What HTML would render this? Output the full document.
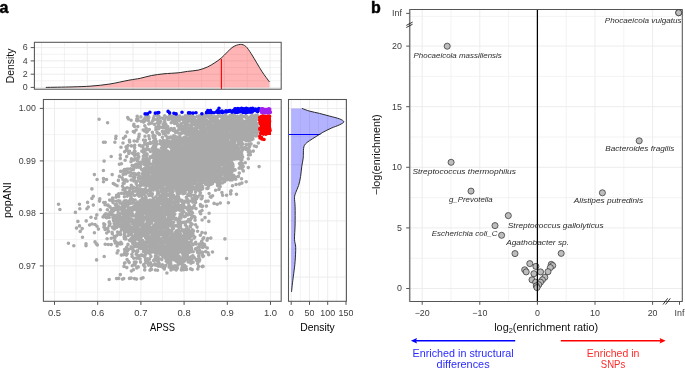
<!DOCTYPE html>
<html><head><meta charset="utf-8"><title>figure</title>
<style>
html,body{margin:0;padding:0;background:#fff;width:685px;height:370px;overflow:hidden}
svg{display:block;will-change:transform}
text{font-family:"Liberation Sans",sans-serif}
</style></head><body>
<svg width="685" height="370" viewBox="0 0 685 370">
<rect width="685" height="370" fill="#fff"/>
<line x1="41.60" y1="42.30" x2="41.60" y2="89.20" stroke="#ebebeb" stroke-width="0.9" />
<line x1="64.45" y1="42.30" x2="64.45" y2="89.20" stroke="#ebebeb" stroke-width="0.6" />
<line x1="87.30" y1="42.30" x2="87.30" y2="89.20" stroke="#ebebeb" stroke-width="0.9" />
<line x1="110.15" y1="42.30" x2="110.15" y2="89.20" stroke="#ebebeb" stroke-width="0.6" />
<line x1="133.00" y1="42.30" x2="133.00" y2="89.20" stroke="#ebebeb" stroke-width="0.9" />
<line x1="155.85" y1="42.30" x2="155.85" y2="89.20" stroke="#ebebeb" stroke-width="0.6" />
<line x1="178.70" y1="42.30" x2="178.70" y2="89.20" stroke="#ebebeb" stroke-width="0.9" />
<line x1="201.55" y1="42.30" x2="201.55" y2="89.20" stroke="#ebebeb" stroke-width="0.6" />
<line x1="224.40" y1="42.30" x2="224.40" y2="89.20" stroke="#ebebeb" stroke-width="0.9" />
<line x1="247.25" y1="42.30" x2="247.25" y2="89.20" stroke="#ebebeb" stroke-width="0.6" />
<line x1="270.10" y1="42.30" x2="270.10" y2="89.20" stroke="#ebebeb" stroke-width="0.9" />
<line x1="34.40" y1="87.40" x2="281.20" y2="87.40" stroke="#ebebeb" stroke-width="0.9" />
<line x1="34.40" y1="80.77" x2="281.20" y2="80.77" stroke="#ebebeb" stroke-width="0.6" />
<line x1="34.40" y1="74.14" x2="281.20" y2="74.14" stroke="#ebebeb" stroke-width="0.9" />
<line x1="34.40" y1="67.51" x2="281.20" y2="67.51" stroke="#ebebeb" stroke-width="0.6" />
<line x1="34.40" y1="60.88" x2="281.20" y2="60.88" stroke="#ebebeb" stroke-width="0.9" />
<line x1="34.40" y1="54.25" x2="281.20" y2="54.25" stroke="#ebebeb" stroke-width="0.6" />
<line x1="34.40" y1="47.62" x2="281.20" y2="47.62" stroke="#ebebeb" stroke-width="0.9" />
<path d="M45.80 87.40C50.17 87.32 64.48 87.12 72.00 86.90C79.52 86.68 84.58 86.58 90.90 86.10C97.22 85.62 103.57 84.98 109.90 84.00C116.23 83.02 123.83 81.15 128.90 80.20C133.97 79.25 136.52 79.08 140.30 78.30C144.08 77.52 147.65 76.25 151.60 75.50C155.55 74.75 159.57 74.25 164.00 73.80C168.43 73.35 174.30 73.20 178.20 72.80C182.10 72.40 184.05 71.85 187.40 71.40C190.75 70.95 194.97 70.83 198.30 70.10C201.63 69.37 204.67 68.22 207.40 67.00C210.13 65.78 212.42 64.27 214.70 62.80C216.98 61.33 218.97 60.02 221.10 58.20C223.23 56.38 225.52 53.78 227.50 51.90C229.48 50.02 230.87 48.15 233.00 46.90C235.13 45.65 238.17 44.48 240.30 44.40C242.43 44.32 243.98 44.85 245.80 46.40C247.62 47.95 249.38 50.97 251.20 53.70C253.02 56.43 254.87 59.77 256.70 62.80C258.53 65.83 260.07 68.70 262.20 71.90C264.33 75.10 268.28 80.32 269.50 82.00L269.5 87.4L45.8 87.4Z" fill="#ff0000" fill-opacity="0.29" stroke="none"/>
<line x1="221.40" y1="59.00" x2="221.40" y2="89.20" stroke="#ff0000" stroke-width="1.1" />
<path d="M45.80 87.40C50.17 87.32 64.48 87.12 72.00 86.90C79.52 86.68 84.58 86.58 90.90 86.10C97.22 85.62 103.57 84.98 109.90 84.00C116.23 83.02 123.83 81.15 128.90 80.20C133.97 79.25 136.52 79.08 140.30 78.30C144.08 77.52 147.65 76.25 151.60 75.50C155.55 74.75 159.57 74.25 164.00 73.80C168.43 73.35 174.30 73.20 178.20 72.80C182.10 72.40 184.05 71.85 187.40 71.40C190.75 70.95 194.97 70.83 198.30 70.10C201.63 69.37 204.67 68.22 207.40 67.00C210.13 65.78 212.42 64.27 214.70 62.80C216.98 61.33 218.97 60.02 221.10 58.20C223.23 56.38 225.52 53.78 227.50 51.90C229.48 50.02 230.87 48.15 233.00 46.90C235.13 45.65 238.17 44.48 240.30 44.40C242.43 44.32 243.98 44.85 245.80 46.40C247.62 47.95 249.38 50.97 251.20 53.70C253.02 56.43 254.87 59.77 256.70 62.80C258.53 65.83 260.07 68.70 262.20 71.90C264.33 75.10 268.28 80.32 269.50 82.00" fill="none" stroke="#222" stroke-width="0.95"/>
<rect x="34.4" y="42.3" width="246.80" height="46.90" fill="none" stroke="#555555" stroke-width="1.05"/>
<line x1="30.70" y1="47.60" x2="34.40" y2="47.60" stroke="#555555" stroke-width="1.0" />
<text x="27.60" y="50.40" font-size="8.9" text-anchor="end" fill="#3d3d3d" >6</text>
<line x1="30.70" y1="60.90" x2="34.40" y2="60.90" stroke="#555555" stroke-width="1.0" />
<text x="27.60" y="63.70" font-size="8.9" text-anchor="end" fill="#3d3d3d" >4</text>
<line x1="30.70" y1="74.20" x2="34.40" y2="74.20" stroke="#555555" stroke-width="1.0" />
<text x="27.60" y="77.00" font-size="8.9" text-anchor="end" fill="#3d3d3d" >2</text>
<line x1="30.70" y1="87.40" x2="34.40" y2="87.40" stroke="#555555" stroke-width="1.0" />
<text x="27.60" y="90.20" font-size="8.9" text-anchor="end" fill="#3d3d3d" >0</text>
<text transform="translate(13.8,65.9) rotate(-90)" font-size="10.4" text-anchor="middle" fill="#111" textLength="34.5" lengthAdjust="spacingAndGlyphs">Density</text>
<line x1="54.50" y1="99.50" x2="54.50" y2="301.30" stroke="#ebebeb" stroke-width="0.9" />
<line x1="76.10" y1="99.50" x2="76.10" y2="301.30" stroke="#ebebeb" stroke-width="0.6" />
<line x1="97.70" y1="99.50" x2="97.70" y2="301.30" stroke="#ebebeb" stroke-width="0.9" />
<line x1="119.30" y1="99.50" x2="119.30" y2="301.30" stroke="#ebebeb" stroke-width="0.6" />
<line x1="140.90" y1="99.50" x2="140.90" y2="301.30" stroke="#ebebeb" stroke-width="0.9" />
<line x1="162.50" y1="99.50" x2="162.50" y2="301.30" stroke="#ebebeb" stroke-width="0.6" />
<line x1="184.10" y1="99.50" x2="184.10" y2="301.30" stroke="#ebebeb" stroke-width="0.9" />
<line x1="205.70" y1="99.50" x2="205.70" y2="301.30" stroke="#ebebeb" stroke-width="0.6" />
<line x1="227.30" y1="99.50" x2="227.30" y2="301.30" stroke="#ebebeb" stroke-width="0.9" />
<line x1="248.90" y1="99.50" x2="248.90" y2="301.30" stroke="#ebebeb" stroke-width="0.6" />
<line x1="270.50" y1="99.50" x2="270.50" y2="301.30" stroke="#ebebeb" stroke-width="0.9" />
<line x1="43.40" y1="108.40" x2="281.20" y2="108.40" stroke="#ebebeb" stroke-width="0.9" />
<line x1="43.40" y1="134.65" x2="281.20" y2="134.65" stroke="#ebebeb" stroke-width="0.6" />
<line x1="43.40" y1="160.90" x2="281.20" y2="160.90" stroke="#ebebeb" stroke-width="0.9" />
<line x1="43.40" y1="187.15" x2="281.20" y2="187.15" stroke="#ebebeb" stroke-width="0.6" />
<line x1="43.40" y1="213.40" x2="281.20" y2="213.40" stroke="#ebebeb" stroke-width="0.9" />
<line x1="43.40" y1="239.65" x2="281.20" y2="239.65" stroke="#ebebeb" stroke-width="0.6" />
<line x1="43.40" y1="265.90" x2="281.20" y2="265.90" stroke="#ebebeb" stroke-width="0.9" />
<line x1="43.40" y1="292.15" x2="281.20" y2="292.15" stroke="#ebebeb" stroke-width="0.6" />
<svg x="43.4" y="99.5" width="237.80" height="201.80" viewBox="43.4 99.5 237.80 201.80" overflow="hidden">
<g fill="none" stroke-linecap="round" stroke-width="3.6">
<path stroke="#a9a9a9" d="M134.5 126.5h0M133.7 125.4h0M136.7 120.6h0M138.1 120.4h0M137.3 120.7h0M133.9 124.2h0M141.3 121.2h0M149.3 129.5h0M148.8 124.0h0M152.8 120.5h0M151.6 122.9h0M144.4 121.2h0M146.1 128.2h0M144.8 125.8h0M149.4 123.7h0M148.5 120.6h0M143.6 122.1h0M157.3 123.1h0M158.9 124.5h0M156.0 127.9h0M160.0 122.4h0M158.7 125.3h0M161.8 127.3h0M155.9 129.8h0M154.2 124.2h0M160.6 121.5h0M157.9 120.4h0M159.7 127.6h0M158.7 128.8h0M156.1 127.0h0M158.9 125.8h0M171.4 129.4h0M167.7 126.6h0M163.6 127.0h0M169.5 129.9h0M171.2 122.8h0M166.9 126.7h0M163.2 124.6h0M164.7 121.2h0M163.6 127.7h0M164.3 122.5h0M166.9 128.7h0M163.8 124.5h0M168.5 128.8h0M171.2 128.6h0M165.8 124.2h0M166.6 128.8h0M172.6 121.5h0M164.8 122.3h0M177.8 125.9h0M175.6 120.0h0M177.2 123.7h0M178.7 129.5h0M179.9 125.2h0M179.2 126.8h0M173.5 129.0h0M180.8 128.7h0M181.0 123.9h0M177.0 121.0h0M179.3 120.6h0M173.7 122.1h0M174.6 123.4h0M173.5 120.0h0M174.5 121.0h0M176.6 120.3h0M181.7 126.1h0M174.5 122.5h0M176.5 123.6h0M174.2 128.5h0M187.7 124.8h0M183.9 121.0h0M186.4 122.6h0M191.3 121.6h0M183.2 129.5h0M188.3 121.5h0M188.4 120.3h0M188.3 129.8h0M191.6 127.0h0M185.6 123.7h0M184.7 127.7h0M188.3 127.8h0M186.3 122.2h0M191.1 129.8h0M191.5 128.1h0M191.2 127.4h0M185.3 125.2h0M186.6 120.3h0M183.3 122.8h0M185.6 126.9h0M192.6 124.5h0M192.4 129.9h0M192.6 123.6h0M185.2 122.3h0M185.0 122.0h0M189.2 129.0h0M191.4 124.8h0M189.5 128.0h0M183.8 126.6h0M192.1 127.8h0M190.5 124.8h0M184.8 127.9h0M186.3 128.0h0M197.0 124.0h0M202.5 127.2h0M194.7 121.3h0M194.5 129.0h0M201.1 121.5h0M201.3 129.8h0M199.6 123.5h0M198.5 121.3h0M193.1 129.7h0M199.5 125.3h0M202.3 124.3h0M201.7 128.3h0M195.1 122.5h0M195.9 122.4h0M198.9 122.6h0M197.2 121.3h0M202.1 123.5h0M197.6 125.8h0M202.0 124.2h0M202.2 125.0h0M198.3 125.2h0M193.2 124.4h0M194.8 120.0h0M201.0 121.7h0M197.7 127.3h0M198.6 123.3h0M198.2 125.6h0M200.8 121.1h0M198.6 122.5h0M195.8 127.7h0M198.1 125.6h0M200.6 129.1h0M197.4 126.1h0M198.1 125.1h0M199.9 124.5h0M198.3 124.8h0M202.4 127.0h0M201.8 129.4h0M195.6 125.6h0M202.4 128.4h0M194.4 121.2h0M197.4 120.7h0M195.4 120.7h0M199.7 127.8h0M202.0 121.5h0M200.2 126.6h0M211.8 129.7h0M205.2 129.5h0M207.0 124.9h0M212.9 128.3h0M204.6 124.3h0M208.2 123.4h0M205.0 123.2h0M210.2 120.2h0M208.5 124.4h0M203.2 123.3h0M209.2 125.1h0M203.6 129.9h0M210.9 129.7h0M204.0 122.7h0M203.4 127.8h0M205.7 121.3h0M207.2 129.1h0M211.2 122.6h0M204.5 129.2h0M208.7 127.0h0M203.9 120.6h0M209.9 124.3h0M203.7 129.4h0M209.3 128.0h0M203.8 128.6h0M203.7 128.6h0M207.5 123.4h0M208.5 129.3h0M205.7 121.3h0M208.3 122.4h0M204.1 121.6h0M203.5 122.0h0M206.1 123.1h0M210.6 122.9h0M208.0 121.8h0M206.5 120.2h0M205.5 120.2h0M210.3 125.5h0M204.9 124.7h0M212.3 121.1h0M211.2 124.3h0M208.0 128.3h0M206.9 125.1h0M209.9 129.8h0M206.4 128.3h0M210.1 126.4h0M207.0 123.5h0M203.5 121.3h0M203.7 127.4h0M205.6 121.6h0M203.8 128.4h0M211.7 126.7h0M205.8 122.4h0M205.9 124.6h0M204.6 124.5h0M205.6 129.6h0M212.7 125.5h0M205.4 129.7h0M206.1 123.6h0M203.0 123.8h0M207.7 125.0h0M205.0 125.0h0M203.0 122.6h0M203.9 124.0h0M203.4 120.2h0M206.0 122.3h0M208.9 125.3h0M210.5 126.6h0M210.2 128.8h0M206.9 123.3h0M212.8 121.5h0M210.2 126.4h0M203.4 128.4h0M211.9 126.3h0M221.1 121.4h0M218.2 125.0h0M221.3 128.0h0M221.3 125.8h0M221.9 126.8h0M219.9 122.3h0M213.3 121.3h0M216.6 121.0h0M221.4 125.6h0M219.3 126.3h0M219.8 124.9h0M213.0 128.0h0M220.5 125.0h0M218.4 126.6h0M213.7 127.4h0M215.5 120.7h0M215.7 127.3h0M215.1 127.4h0M222.8 124.9h0M216.8 124.8h0M219.8 127.7h0M219.2 126.4h0M213.8 121.5h0M215.5 127.4h0M216.0 125.7h0M213.1 120.6h0M215.7 126.7h0M219.9 126.8h0M215.9 125.2h0M217.6 124.7h0M214.2 128.9h0M215.0 129.8h0M222.4 120.2h0M217.6 128.2h0M222.7 124.5h0M215.7 122.1h0M222.5 122.1h0M218.8 121.4h0M218.2 129.5h0M214.3 128.2h0M218.1 128.9h0M220.0 122.3h0M222.0 124.9h0M213.2 120.0h0M217.9 124.5h0M216.0 121.4h0M216.4 123.2h0M221.4 120.0h0M220.5 128.4h0M214.2 129.3h0M220.1 129.0h0M215.9 123.7h0M216.9 130.0h0M218.9 123.6h0M217.3 122.8h0M213.5 121.0h0M221.3 122.9h0M222.4 122.5h0M215.7 125.1h0M214.9 123.7h0M222.6 128.8h0M221.1 126.3h0M222.1 129.4h0M218.5 127.2h0M213.5 127.3h0M217.5 127.5h0M219.4 122.9h0M213.5 129.3h0M214.3 124.7h0M216.4 123.0h0M220.4 129.8h0M215.6 126.6h0M216.0 125.6h0M216.9 121.7h0M214.6 122.1h0M228.0 122.2h0M232.1 130.0h0M227.5 121.4h0M224.9 120.9h0M226.4 120.9h0M225.4 122.6h0M228.7 128.9h0M230.5 124.1h0M227.1 125.2h0M226.8 123.4h0M223.6 122.8h0M232.7 121.3h0M228.0 126.3h0M231.6 122.2h0M225.7 122.5h0M227.0 124.5h0M232.5 128.5h0M231.7 120.2h0M223.3 127.1h0M232.0 124.7h0M228.9 120.0h0M226.9 129.3h0M231.3 128.6h0M232.7 122.5h0M224.1 121.5h0M228.2 126.8h0M232.4 127.2h0M229.5 127.6h0M227.6 125.5h0M223.4 127.8h0M225.3 129.2h0M229.5 123.0h0M224.3 122.5h0M229.4 127.0h0M224.1 120.7h0M228.2 125.8h0M226.9 122.2h0M229.0 120.1h0M226.0 124.6h0M232.6 126.4h0M231.8 124.8h0M225.3 122.5h0M232.6 127.0h0M226.1 120.2h0M228.0 126.7h0M227.2 122.6h0M229.7 129.3h0M225.3 120.3h0M226.4 124.2h0M229.8 122.0h0M231.0 127.4h0M228.0 122.1h0M232.7 123.1h0M231.2 122.3h0M225.2 127.6h0M225.9 129.5h0M228.0 121.9h0M225.2 124.2h0M229.7 129.5h0M224.5 123.9h0M225.1 129.7h0M224.4 120.5h0M223.6 123.9h0M232.0 128.8h0M230.3 130.0h0M232.3 123.3h0M224.9 129.4h0M230.5 120.3h0M229.6 123.8h0M226.7 123.3h0M224.7 120.0h0M225.8 123.5h0M232.6 121.2h0M232.6 122.1h0M226.6 128.2h0M237.3 120.5h0M237.7 123.7h0M242.2 121.9h0M236.6 129.0h0M233.3 124.1h0M241.1 127.7h0M233.4 120.3h0M233.6 129.2h0M235.6 127.5h0M242.0 123.4h0M235.7 129.6h0M239.2 122.6h0M240.2 123.2h0M235.8 120.0h0M240.6 129.2h0M239.3 129.4h0M233.2 122.3h0M237.8 129.6h0M242.5 123.9h0M235.5 124.3h0M237.9 129.3h0M234.8 128.0h0M240.4 128.2h0M240.7 126.1h0M236.3 123.2h0M236.6 127.8h0M233.8 122.0h0M240.5 122.5h0M233.6 120.3h0M238.5 123.3h0M242.8 128.8h0M242.9 122.6h0M233.8 121.0h0M238.0 127.1h0M237.5 122.3h0M237.2 126.2h0M239.7 127.5h0M241.5 126.6h0M234.2 128.4h0M235.9 125.7h0M236.7 127.4h0M235.0 122.5h0M235.5 121.5h0M241.8 125.8h0M236.3 124.0h0M242.9 125.1h0M235.3 128.1h0M239.5 129.9h0M234.0 124.7h0M241.2 128.4h0M242.1 120.4h0M235.9 121.2h0M234.9 129.7h0M238.8 129.3h0M236.7 128.7h0M237.5 122.6h0M240.8 129.5h0M234.1 126.0h0M239.2 122.2h0M236.7 121.4h0M235.0 122.5h0M239.0 126.5h0M235.0 120.1h0M236.3 126.8h0M234.9 123.1h0M235.0 128.0h0M238.5 120.6h0M234.0 124.0h0M238.5 126.4h0M233.9 121.6h0M240.0 124.1h0M235.8 123.1h0M242.5 123.1h0M238.7 123.6h0M237.2 128.6h0M246.6 122.0h0M250.3 122.0h0M243.1 129.0h0M247.2 128.2h0M247.1 128.8h0M247.6 121.6h0M243.1 125.5h0M249.4 129.1h0M243.9 126.2h0M246.7 125.0h0M244.5 122.8h0M248.2 129.3h0M244.1 124.9h0M251.0 129.7h0M245.0 121.3h0M252.4 129.8h0M247.8 120.5h0M252.3 123.9h0M252.0 126.2h0M251.2 121.6h0M250.9 122.2h0M247.0 128.5h0M251.3 121.8h0M245.2 124.0h0M248.2 123.8h0M244.2 122.5h0M250.2 129.0h0M243.4 125.6h0M250.6 120.4h0M251.4 121.2h0M249.0 125.5h0M249.3 123.1h0M247.2 125.8h0M247.3 126.6h0M247.5 124.4h0M243.2 126.2h0M247.9 122.4h0M250.6 127.8h0M247.6 121.8h0M247.7 121.1h0M244.3 124.3h0M243.9 124.4h0M248.1 120.4h0M249.4 120.8h0M250.3 127.8h0M248.1 120.5h0M248.0 123.8h0M252.5 121.4h0M251.6 130.0h0M250.3 128.1h0M244.9 129.8h0M247.9 129.6h0M252.2 121.7h0M250.9 129.3h0M243.7 123.5h0M250.6 121.6h0M252.0 122.7h0M251.2 121.4h0M248.0 129.2h0M245.1 122.6h0M248.1 123.2h0M243.4 121.8h0M244.6 129.4h0M249.8 129.0h0M244.7 127.8h0M244.2 125.3h0M249.4 123.6h0M251.7 125.6h0M248.8 128.8h0M244.0 129.9h0M249.3 123.9h0M251.0 122.6h0M252.9 125.8h0M246.6 127.6h0M247.4 121.8h0M123.5 138.2h0M125.5 136.4h0M138.9 136.6h0M136.1 130.0h0M133.3 131.5h0M139.2 134.3h0M138.1 139.0h0M134.3 132.3h0M143.2 130.0h0M146.5 131.1h0M146.6 132.2h0M148.8 135.9h0M145.0 136.2h0M147.7 131.3h0M152.4 132.4h0M144.5 131.0h0M149.4 138.7h0M157.0 132.6h0M153.1 136.4h0M158.6 133.5h0M159.5 134.4h0M162.4 137.3h0M155.5 139.0h0M153.4 135.3h0M157.1 132.4h0M153.6 137.8h0M153.1 135.5h0M162.4 131.4h0M155.0 136.1h0M169.4 138.1h0M164.7 133.1h0M166.0 130.5h0M171.9 137.8h0M170.2 130.1h0M171.4 137.5h0M167.7 137.4h0M167.5 132.3h0M164.1 132.3h0M163.4 133.4h0M170.5 137.0h0M171.5 137.1h0M165.7 135.5h0M167.4 137.9h0M168.2 132.7h0M182.7 132.2h0M181.8 130.2h0M175.6 132.4h0M180.4 139.4h0M180.5 133.3h0M181.8 133.3h0M175.4 139.1h0M179.3 136.9h0M179.7 139.8h0M177.7 138.4h0M180.0 138.6h0M177.4 137.2h0M178.7 133.1h0M175.1 136.2h0M173.8 139.1h0M174.4 130.3h0M174.1 139.3h0M176.4 131.4h0M173.3 130.4h0M179.9 136.3h0M180.0 137.4h0M173.7 135.9h0M176.6 138.2h0M181.2 138.9h0M191.7 139.1h0M192.4 131.1h0M185.1 131.1h0M183.3 138.5h0M191.1 136.3h0M191.3 136.3h0M185.9 131.0h0M184.0 137.6h0M185.0 133.2h0M187.2 130.2h0M185.6 132.8h0M190.2 133.7h0M186.2 139.6h0M188.0 138.5h0M189.2 130.3h0M187.1 134.4h0M190.7 133.5h0M190.0 135.4h0M185.2 138.6h0M183.9 138.2h0M184.7 130.0h0M185.0 137.6h0M192.8 130.0h0M187.9 134.9h0M191.0 131.8h0M187.9 133.5h0M191.3 132.6h0M192.4 132.8h0M185.1 137.0h0M188.0 131.1h0M189.4 130.8h0M190.9 137.0h0M190.9 136.3h0M186.6 134.0h0M186.9 138.9h0M183.9 138.9h0M183.3 132.1h0M185.6 139.0h0M188.0 133.8h0M191.8 132.3h0M187.6 135.3h0M190.5 137.5h0M189.5 133.5h0M186.3 131.6h0M191.4 136.6h0M194.7 134.4h0M200.7 135.8h0M194.3 134.6h0M201.9 132.4h0M194.9 133.0h0M200.0 138.4h0M194.5 131.6h0M195.5 133.3h0M198.2 131.6h0M196.3 131.9h0M202.8 137.3h0M194.0 139.6h0M194.0 133.8h0M202.8 137.9h0M200.3 134.3h0M195.0 136.4h0M194.1 132.1h0M196.9 130.3h0M197.0 137.9h0M199.9 135.0h0M199.3 134.6h0M194.4 136.0h0M197.0 137.4h0M202.1 134.3h0M198.7 137.5h0M197.2 132.3h0M200.2 138.8h0M200.7 137.0h0M201.5 136.8h0M199.4 134.5h0M196.1 136.3h0M194.0 134.2h0M200.8 137.1h0M199.3 132.5h0M197.2 134.6h0M199.2 134.1h0M199.8 139.3h0M194.8 136.5h0M200.8 133.9h0M197.9 139.7h0M193.4 135.4h0M194.6 137.8h0M202.4 135.2h0M194.0 135.7h0M198.4 137.2h0M198.1 136.4h0M201.3 135.2h0M197.1 139.5h0M195.1 136.8h0M196.9 137.6h0M194.2 139.8h0M196.6 130.6h0M195.7 134.0h0M193.1 134.2h0M197.2 137.0h0M196.5 132.7h0M195.2 137.4h0M202.4 135.3h0M195.2 138.0h0M196.9 132.1h0M194.3 137.8h0M201.1 136.3h0M197.7 135.6h0M195.3 139.6h0M196.5 136.4h0M201.2 138.2h0M205.9 135.5h0M204.3 138.3h0M206.5 138.5h0M205.7 133.8h0M205.5 134.3h0M204.9 130.0h0M210.2 132.8h0M205.4 133.0h0M207.8 134.3h0M209.4 136.6h0M206.6 139.3h0M211.5 130.6h0M211.3 139.1h0M210.8 131.4h0M211.3 136.3h0M203.1 130.1h0M212.5 136.6h0M205.5 131.0h0M204.4 132.3h0M210.8 133.5h0M204.5 139.0h0M210.9 131.7h0M211.9 136.1h0M210.8 136.7h0M211.9 137.9h0M211.4 132.0h0M209.9 135.3h0M210.4 134.4h0M211.8 135.6h0M205.6 132.3h0M204.4 134.9h0M203.6 134.7h0M204.4 134.9h0M208.0 135.4h0M211.6 130.1h0M211.4 134.7h0M208.6 136.7h0M211.4 133.7h0M207.2 139.6h0M203.8 136.4h0M209.4 130.3h0M209.1 136.8h0M212.3 133.3h0M212.8 135.1h0M207.8 139.0h0M203.3 137.2h0M209.3 133.4h0M211.6 133.7h0M207.7 135.3h0M210.7 132.1h0M207.4 134.2h0M208.5 138.3h0M205.9 138.3h0M207.0 135.0h0M205.7 135.1h0M212.7 136.5h0M210.9 133.3h0M206.2 133.0h0M208.9 136.3h0M210.8 130.4h0M210.2 138.9h0M208.5 130.5h0M206.0 130.1h0M204.9 139.2h0M209.1 136.6h0M210.9 139.1h0M209.1 136.2h0M209.3 137.0h0M209.0 136.8h0M205.1 136.7h0M207.6 137.6h0M204.0 131.8h0M203.4 137.7h0M212.1 136.6h0M206.7 138.2h0M218.6 132.6h0M216.0 134.2h0M216.2 134.3h0M219.4 139.3h0M213.5 135.7h0M213.4 131.2h0M221.1 135.8h0M222.2 134.5h0M213.1 133.9h0M218.9 139.4h0M222.8 134.8h0M217.1 131.0h0M219.4 132.1h0M214.5 130.2h0M213.0 136.8h0M214.2 139.7h0M213.9 138.7h0M214.3 130.2h0M220.2 132.4h0M220.3 131.9h0M213.5 137.7h0M220.1 138.6h0M220.3 130.8h0M219.3 137.1h0M217.6 139.3h0M215.5 139.6h0M220.2 130.1h0M213.1 136.5h0M221.2 130.8h0M216.1 137.3h0M214.7 138.6h0M217.9 130.6h0M216.7 135.7h0M217.4 136.8h0M214.4 138.0h0M216.6 136.4h0M219.3 134.2h0M216.9 137.9h0M222.4 137.8h0M218.7 132.9h0M213.6 139.7h0M220.0 138.3h0M216.3 136.1h0M222.8 138.3h0M219.0 133.1h0M217.3 138.9h0M216.8 136.8h0M219.0 139.0h0M221.1 132.8h0M213.0 132.6h0M217.2 135.9h0M221.2 138.9h0M213.4 138.3h0M221.1 138.7h0M218.7 132.7h0M221.5 138.1h0M219.8 139.1h0M216.5 130.9h0M218.5 138.0h0M215.0 137.5h0M222.3 132.3h0M219.1 136.8h0M217.7 132.1h0M215.5 137.5h0M220.9 134.6h0M213.9 138.1h0M220.7 132.3h0M218.8 139.0h0M221.9 135.2h0M217.8 135.9h0M214.9 131.9h0M214.8 137.0h0M216.6 135.6h0M217.0 135.2h0M214.5 130.4h0M226.7 131.1h0M229.3 137.9h0M224.6 136.0h0M226.4 135.2h0M223.2 130.3h0M232.9 138.7h0M227.9 135.7h0M225.6 137.8h0M227.3 139.5h0M230.7 138.2h0M232.6 132.5h0M223.4 132.0h0M224.8 130.8h0M223.5 135.6h0M231.7 134.6h0M232.5 139.1h0M223.6 136.0h0M227.0 131.2h0M232.6 132.6h0M228.6 136.4h0M232.6 136.7h0M226.9 134.5h0M224.6 139.7h0M232.9 132.2h0M223.4 132.6h0M226.5 139.0h0M232.0 138.4h0M223.5 137.9h0M230.1 136.5h0M232.9 130.6h0M224.4 137.5h0M232.4 136.8h0M226.0 135.9h0M230.6 131.1h0M226.2 132.6h0M224.2 134.8h0M224.7 132.4h0M224.4 136.8h0M223.1 137.2h0M225.0 130.4h0M232.3 132.2h0M232.3 138.7h0M231.9 131.4h0M227.5 131.0h0M232.3 138.4h0M229.3 134.5h0M226.4 138.2h0M227.8 136.3h0M224.4 132.2h0M223.6 137.1h0M228.5 131.4h0M231.7 132.7h0M227.1 131.6h0M225.7 138.4h0M226.3 131.7h0M227.9 133.2h0M232.0 131.1h0M232.8 130.6h0M232.0 136.7h0M225.1 134.8h0M225.9 132.6h0M225.0 133.6h0M232.9 140.0h0M232.3 131.0h0M225.9 139.0h0M223.6 137.3h0M225.9 139.8h0M223.2 138.1h0M226.4 131.4h0M223.0 138.3h0M228.3 131.9h0M227.4 139.1h0M225.2 135.7h0M224.4 131.8h0M230.7 137.1h0M233.8 130.9h0M239.1 135.0h0M235.7 132.1h0M239.1 137.1h0M241.1 135.8h0M235.0 130.7h0M240.3 134.1h0M240.2 130.6h0M241.1 133.4h0M241.4 138.6h0M237.9 130.2h0M242.1 134.8h0M241.7 132.7h0M234.9 138.3h0M236.7 131.6h0M236.7 135.9h0M233.0 135.2h0M237.5 135.2h0M234.2 137.1h0M241.2 138.7h0M236.2 137.1h0M236.8 137.5h0M233.6 138.7h0M242.5 134.9h0M238.1 135.3h0M238.4 130.2h0M242.7 132.2h0M234.8 131.0h0M235.5 138.2h0M233.3 131.0h0M240.0 132.0h0M233.2 136.0h0M238.8 135.2h0M240.0 131.0h0M241.7 137.2h0M233.5 131.2h0M237.9 135.0h0M235.8 131.2h0M237.1 131.4h0M238.9 138.6h0M234.5 135.7h0M240.5 131.6h0M241.3 139.4h0M236.9 134.2h0M241.4 135.3h0M237.0 139.4h0M240.8 133.4h0M235.4 133.4h0M237.4 139.8h0M241.0 139.1h0M241.2 138.5h0M233.5 135.2h0M242.6 139.3h0M235.5 134.2h0M239.3 133.6h0M238.3 130.7h0M237.3 135.0h0M233.2 131.4h0M242.7 137.8h0M242.4 136.3h0M241.1 138.8h0M241.8 130.3h0M239.4 132.7h0M239.8 132.7h0M238.4 139.2h0M239.2 132.5h0M238.2 134.3h0M242.5 132.9h0M236.1 136.5h0M234.2 135.9h0M242.6 135.1h0M235.7 134.7h0M238.3 131.5h0M234.2 131.3h0M247.1 132.9h0M245.4 130.9h0M248.5 138.4h0M249.1 135.7h0M249.5 132.0h0M250.1 134.6h0M248.5 136.1h0M247.7 133.1h0M245.4 132.2h0M248.1 133.8h0M248.9 130.1h0M246.5 138.6h0M245.4 135.6h0M247.9 132.8h0M252.9 133.0h0M250.7 131.6h0M243.7 138.7h0M247.4 130.6h0M246.9 134.4h0M250.4 131.1h0M245.3 139.6h0M250.4 131.5h0M246.4 133.5h0M249.8 136.2h0M251.5 138.2h0M248.2 137.4h0M250.4 137.6h0M247.8 137.8h0M250.1 139.1h0M244.3 138.7h0M243.0 137.7h0M248.9 135.0h0M252.6 135.7h0M247.2 137.8h0M251.7 136.1h0M246.8 134.5h0M247.6 137.2h0M245.9 133.9h0M248.6 133.8h0M246.2 137.9h0M251.5 135.0h0M247.4 131.8h0M246.0 131.4h0M248.8 135.8h0M243.9 139.2h0M246.2 138.4h0M251.4 139.6h0M245.0 134.3h0M252.1 130.1h0M243.5 135.6h0M248.0 139.2h0M250.7 135.4h0M253.0 135.2h0M248.2 136.9h0M246.9 133.6h0M248.9 133.5h0M252.5 136.8h0M248.3 131.0h0M246.7 134.0h0M248.6 135.7h0M251.8 139.6h0M247.9 134.4h0M249.2 140.0h0M246.4 135.3h0M251.2 131.7h0M246.2 139.8h0M251.3 135.1h0M244.1 138.9h0M249.9 138.2h0M252.9 138.9h0M247.2 131.6h0M245.9 135.1h0M248.0 131.9h0M244.8 136.3h0M126.5 149.9h0M129.4 140.4h0M127.1 147.9h0M126.1 146.9h0M123.0 143.0h0M131.4 145.9h0M129.7 142.0h0M128.0 145.5h0M139.5 145.3h0M143.0 145.7h0M137.1 141.2h0M134.6 147.6h0M134.1 141.0h0M134.7 145.2h0M141.2 146.1h0M143.6 140.1h0M150.7 143.2h0M150.2 143.5h0M144.7 142.7h0M144.0 149.0h0M148.8 143.5h0M147.5 143.9h0M143.5 148.9h0M148.8 149.6h0M147.4 146.2h0M145.5 140.4h0M152.3 148.5h0M146.1 149.0h0M151.2 143.0h0M149.0 149.6h0M148.0 149.5h0M145.4 143.9h0M150.2 142.2h0M161.8 144.8h0M160.9 142.4h0M154.7 143.6h0M154.9 149.7h0M155.9 145.6h0M154.1 145.3h0M156.9 144.0h0M153.7 141.2h0M161.3 143.5h0M155.4 141.9h0M155.8 142.4h0M153.3 146.6h0M156.4 141.6h0M160.1 140.9h0M155.7 148.4h0M154.3 144.4h0M161.4 148.0h0M154.6 143.5h0M160.2 143.8h0M162.6 142.1h0M168.0 142.3h0M167.5 141.3h0M170.1 142.6h0M172.0 145.9h0M166.7 142.5h0M169.1 142.1h0M171.7 141.2h0M168.1 145.4h0M165.7 147.7h0M166.8 146.6h0M168.7 143.1h0M166.9 140.9h0M164.8 148.5h0M166.2 146.6h0M164.1 145.6h0M166.6 145.0h0M166.0 140.7h0M166.1 142.3h0M164.3 147.2h0M165.8 144.0h0M172.1 147.7h0M171.8 148.6h0M164.3 142.8h0M163.3 146.8h0M169.6 143.5h0M167.1 146.6h0M170.0 142.5h0M171.5 143.5h0M169.3 141.8h0M164.2 149.1h0M170.3 147.1h0M163.4 140.4h0M164.6 142.0h0M176.8 140.4h0M176.1 146.4h0M174.8 148.4h0M178.7 147.2h0M175.5 144.3h0M179.8 143.5h0M173.0 148.3h0M180.8 142.9h0M173.4 148.5h0M179.1 140.5h0M175.4 141.1h0M180.9 142.1h0M182.1 147.5h0M173.9 146.9h0M176.9 147.5h0M181.3 142.8h0M173.9 149.5h0M177.2 149.3h0M179.9 147.4h0M181.3 146.3h0M177.5 140.5h0M180.0 144.3h0M178.1 149.3h0M174.3 147.6h0M173.4 147.0h0M181.1 142.6h0M178.5 149.7h0M179.4 145.4h0M175.5 140.6h0M176.6 144.1h0M175.0 143.1h0M174.4 147.1h0M179.7 142.4h0M175.4 145.2h0M177.5 149.4h0M176.5 143.0h0M181.8 141.4h0M178.6 143.3h0M181.2 145.5h0M180.6 141.7h0M179.7 146.0h0M177.6 147.7h0M181.3 141.1h0M175.9 143.6h0M175.1 140.6h0M175.8 142.0h0M180.0 144.5h0M174.1 143.2h0M177.7 143.6h0M174.7 140.7h0M173.1 149.9h0M180.5 140.8h0M180.2 149.8h0M178.6 141.1h0M177.9 144.3h0M174.9 145.4h0M173.1 149.2h0M179.4 146.3h0M182.4 146.5h0M175.5 142.5h0M174.4 140.3h0M180.7 148.4h0M176.0 141.9h0M179.4 148.5h0M182.3 141.7h0M180.8 148.3h0M186.3 141.8h0M191.3 143.2h0M186.7 145.5h0M186.7 148.3h0M185.4 140.4h0M188.7 146.3h0M191.2 147.1h0M192.1 149.4h0M187.9 145.0h0M184.6 143.0h0M188.8 140.8h0M189.9 141.6h0M187.4 149.7h0M183.9 140.4h0M187.4 141.9h0M190.2 140.0h0M191.4 148.6h0M190.9 144.3h0M185.8 146.6h0M188.1 144.2h0M186.4 144.4h0M189.7 148.3h0M192.0 141.6h0M186.0 144.4h0M188.6 143.5h0M185.0 140.9h0M186.2 144.6h0M192.7 149.1h0M191.7 149.7h0M192.6 146.2h0M191.1 140.6h0M189.8 146.1h0M186.0 145.7h0M192.5 144.8h0M189.5 143.0h0M186.4 148.9h0M183.3 141.9h0M189.8 144.5h0M183.9 146.6h0M186.7 145.8h0M187.2 145.3h0M188.6 144.0h0M184.1 141.8h0M191.9 145.5h0M184.1 148.6h0M185.5 140.9h0M188.3 142.5h0M187.9 145.5h0M185.3 145.7h0M184.1 145.1h0M188.9 140.8h0M187.1 140.7h0M187.4 148.6h0M188.5 147.1h0M190.6 141.1h0M192.9 147.2h0M184.0 148.3h0M186.9 141.7h0M192.6 145.6h0M190.7 141.4h0M190.8 140.6h0M185.4 143.7h0M183.2 145.9h0M185.1 143.0h0M190.1 144.3h0M191.9 146.2h0M198.6 149.2h0M201.7 141.7h0M200.5 143.4h0M200.6 146.8h0M201.3 141.2h0M196.7 147.4h0M202.5 147.2h0M193.4 146.0h0M194.0 145.5h0M201.0 141.1h0M202.3 146.8h0M195.5 141.9h0M197.5 148.4h0M198.8 141.1h0M193.2 141.1h0M201.0 141.9h0M198.5 142.9h0M199.9 143.8h0M194.4 148.8h0M198.4 146.9h0M201.1 149.5h0M193.1 143.4h0M194.5 145.0h0M201.7 148.0h0M193.4 141.8h0M201.2 146.8h0M196.9 144.8h0M194.6 148.5h0M196.9 148.7h0M199.1 140.8h0M196.3 142.2h0M201.9 145.9h0M193.4 141.7h0M196.6 144.7h0M198.8 143.9h0M196.5 140.1h0M198.8 143.3h0M193.2 144.6h0M202.9 140.5h0M194.5 146.7h0M195.7 142.7h0M198.0 142.6h0M198.7 145.3h0M202.6 149.9h0M193.3 145.6h0M200.7 148.7h0M200.7 146.3h0M199.3 143.6h0M195.8 148.0h0M201.7 149.4h0M199.8 143.0h0M200.6 147.4h0M198.1 146.4h0M196.5 145.5h0M197.1 140.6h0M196.4 143.2h0M202.9 144.8h0M196.7 142.4h0M195.3 143.5h0M194.4 140.1h0M201.7 144.5h0M197.5 145.7h0M196.0 141.7h0M193.7 143.0h0M196.1 147.3h0M198.5 149.4h0M196.4 149.2h0M203.8 141.8h0M208.8 149.9h0M206.6 147.7h0M207.3 148.7h0M203.7 144.8h0M212.0 142.8h0M205.6 140.2h0M204.6 142.7h0M210.0 142.2h0M207.0 142.0h0M209.0 148.6h0M209.5 142.0h0M210.3 149.6h0M209.0 140.8h0M211.1 148.8h0M206.4 141.4h0M204.9 145.4h0M211.8 146.4h0M212.2 142.1h0M206.3 147.5h0M209.5 144.1h0M209.8 143.4h0M203.6 144.1h0M203.5 146.3h0M206.3 144.9h0M209.0 142.6h0M207.6 140.1h0M212.3 145.6h0M212.9 140.6h0M209.1 147.2h0M206.3 140.9h0M204.6 141.4h0M210.7 140.9h0M211.1 144.2h0M208.4 145.9h0M208.5 146.6h0M209.0 143.3h0M210.4 142.6h0M210.1 147.6h0M210.8 143.1h0M210.7 149.8h0M207.5 142.8h0M208.2 149.4h0M204.3 140.1h0M207.8 146.6h0M210.7 143.6h0M212.9 142.3h0M210.6 140.9h0M203.3 141.3h0M203.6 145.0h0M208.6 141.8h0M212.4 143.7h0M204.5 141.8h0M210.4 149.2h0M204.6 140.3h0M210.8 142.4h0M212.8 145.0h0M209.4 143.4h0M211.0 144.6h0M206.2 149.0h0M204.1 147.3h0M203.7 146.5h0M207.0 148.6h0M203.6 145.6h0M207.1 149.2h0M212.4 146.3h0M205.2 142.5h0M205.6 144.3h0M205.3 142.0h0M210.6 146.4h0M206.0 149.9h0M205.2 145.7h0M204.6 148.6h0M211.7 142.7h0M210.5 148.2h0M216.3 144.9h0M221.9 141.6h0M219.8 146.0h0M217.5 145.8h0M221.8 142.1h0M221.8 143.6h0M220.8 148.6h0M214.8 148.6h0M222.9 143.0h0M213.2 141.1h0M222.7 140.1h0M222.1 141.5h0M220.4 141.0h0M214.7 146.8h0M213.9 143.4h0M222.2 147.2h0M221.8 149.8h0M213.3 142.3h0M220.9 146.9h0M213.4 145.0h0M215.3 144.3h0M214.0 140.2h0M222.9 143.2h0M221.8 141.2h0M217.9 141.4h0M217.3 141.8h0M219.9 141.5h0M220.4 145.0h0M214.1 143.5h0M218.0 149.2h0M216.5 142.2h0M222.7 148.8h0M220.3 142.7h0M214.8 142.6h0M213.7 140.4h0M218.1 144.1h0M218.6 143.6h0M213.1 146.9h0M219.5 145.4h0M218.5 146.9h0M222.8 148.7h0M220.2 144.0h0M216.2 144.2h0M222.7 143.9h0M216.9 144.1h0M214.4 150.0h0M213.1 146.1h0M222.3 142.5h0M219.1 143.8h0M215.4 142.0h0M214.2 148.4h0M220.8 149.1h0M213.5 146.9h0M216.2 146.5h0M218.5 143.2h0M222.7 140.0h0M220.5 148.5h0M218.1 145.9h0M222.9 142.3h0M219.3 147.4h0M216.8 147.1h0M216.9 145.3h0M219.1 146.8h0M216.2 146.3h0M218.4 142.2h0M219.1 142.6h0M222.1 144.7h0M220.2 145.2h0M217.8 142.2h0M214.4 149.3h0M218.3 145.2h0M218.3 148.1h0M215.4 141.7h0M221.2 144.6h0M231.3 148.9h0M231.7 140.4h0M226.8 148.3h0M231.2 141.2h0M224.5 142.5h0M224.0 143.6h0M231.0 145.2h0M227.5 140.9h0M227.0 150.0h0M230.0 144.5h0M227.8 148.0h0M230.6 141.5h0M229.8 143.7h0M228.2 142.4h0M226.7 143.4h0M226.8 140.2h0M225.0 145.7h0M223.6 141.8h0M230.2 142.7h0M226.2 142.4h0M231.3 140.9h0M229.4 148.6h0M225.0 144.2h0M230.9 146.2h0M226.7 140.4h0M227.4 143.7h0M230.1 143.0h0M227.1 146.5h0M231.1 143.5h0M226.9 145.8h0M232.2 141.9h0M232.7 147.1h0M226.7 146.7h0M226.3 140.7h0M230.6 143.8h0M228.3 145.0h0M232.0 147.6h0M223.3 145.9h0M227.6 144.6h0M231.4 144.1h0M227.7 148.9h0M227.4 144.9h0M228.1 148.2h0M229.7 147.4h0M227.0 140.4h0M229.8 145.5h0M230.7 147.7h0M224.2 142.2h0M223.8 148.2h0M224.0 140.9h0M230.5 145.6h0M223.6 146.8h0M230.1 144.8h0M223.5 146.9h0M227.2 145.8h0M233.0 148.2h0M231.7 141.5h0M226.3 145.2h0M223.1 149.9h0M225.7 142.6h0M226.1 142.6h0M231.6 145.6h0M228.1 144.2h0M223.5 143.0h0M231.7 148.0h0M231.6 142.6h0M225.0 140.5h0M228.4 143.7h0M227.6 144.9h0M228.8 143.7h0M231.0 142.0h0M232.2 145.6h0M223.5 143.1h0M228.3 144.1h0M228.6 143.2h0M241.0 142.9h0M240.1 148.0h0M238.9 144.5h0M242.3 144.4h0M241.8 140.6h0M237.3 146.4h0M233.5 148.6h0M233.7 146.0h0M234.8 149.2h0M238.6 148.0h0M238.0 146.7h0M239.7 142.9h0M235.1 148.4h0M234.5 149.2h0M235.1 141.0h0M234.0 147.8h0M242.5 144.1h0M239.6 142.6h0M242.1 146.9h0M234.5 140.6h0M240.0 140.4h0M241.4 142.9h0M235.3 145.8h0M236.2 145.6h0M234.5 149.1h0M236.2 148.4h0M234.5 148.0h0M242.8 143.9h0M233.3 143.8h0M239.4 142.2h0M238.5 140.9h0M237.6 147.3h0M237.3 146.8h0M234.1 148.3h0M234.2 149.2h0M243.0 149.4h0M238.3 142.9h0M236.5 147.5h0M238.0 149.3h0M233.9 144.8h0M241.6 146.0h0M238.4 140.9h0M234.4 142.7h0M241.9 148.5h0M235.3 149.2h0M249.0 149.7h0M246.4 149.4h0M249.6 140.5h0M246.3 144.5h0M245.5 147.4h0M244.8 147.9h0M246.0 140.7h0M248.6 141.0h0M248.5 147.9h0M249.0 144.6h0M128.1 151.0h0M129.5 151.3h0M128.8 153.5h0M126.7 156.6h0M124.6 151.7h0M132.4 153.3h0M131.4 158.7h0M134.5 150.9h0M141.8 151.2h0M138.0 155.4h0M134.2 154.7h0M134.6 155.4h0M138.1 153.7h0M135.0 154.0h0M135.0 151.3h0M135.4 158.7h0M138.0 158.9h0M133.2 159.4h0M137.9 157.9h0M138.7 156.9h0M150.5 151.5h0M145.6 150.3h0M146.9 155.2h0M145.9 158.9h0M143.8 155.8h0M145.3 156.0h0M150.8 157.1h0M143.6 152.5h0M149.0 159.8h0M143.4 156.2h0M149.9 158.1h0M146.4 158.1h0M147.6 159.2h0M143.1 159.4h0M147.1 154.1h0M143.9 152.4h0M150.3 156.8h0M144.5 153.4h0M144.4 152.0h0M145.2 153.3h0M163.0 157.9h0M157.8 155.0h0M160.8 159.1h0M160.5 156.4h0M155.0 156.3h0M161.5 157.9h0M153.9 157.2h0M156.5 151.6h0M162.7 156.7h0M160.5 151.3h0M161.3 159.4h0M162.0 157.4h0M161.3 158.0h0M158.9 154.4h0M161.3 157.8h0M161.7 153.0h0M162.6 155.3h0M162.5 151.2h0M162.7 157.9h0M155.5 158.4h0M155.3 152.0h0M157.6 152.4h0M157.9 159.1h0M159.9 157.1h0M156.9 157.8h0M160.9 156.8h0M162.4 158.3h0M157.1 150.9h0M159.5 158.4h0M156.4 155.9h0M161.4 157.9h0M153.0 154.9h0M153.2 151.1h0M161.1 154.2h0M159.0 154.6h0M156.4 152.1h0M156.5 158.4h0M159.2 152.9h0M153.9 152.7h0M160.0 154.4h0M159.6 158.1h0M154.2 156.8h0M153.4 158.2h0M154.8 152.7h0M162.6 153.6h0M155.2 158.9h0M159.1 158.9h0M156.9 155.0h0M162.6 155.1h0M162.9 151.9h0M161.3 151.6h0M158.3 150.0h0M154.8 159.5h0M157.5 158.1h0M155.5 153.5h0M154.0 155.5h0M161.6 155.1h0M156.8 159.3h0M161.9 156.7h0M153.8 156.2h0M157.4 159.6h0M156.6 156.6h0M159.3 153.8h0M158.2 156.8h0M162.1 155.0h0M156.6 159.8h0M153.6 158.3h0M168.6 154.5h0M170.5 158.9h0M170.3 157.5h0M163.4 153.3h0M164.4 159.5h0M171.9 151.4h0M168.9 155.8h0M163.5 153.9h0M170.5 156.4h0M165.8 157.6h0M165.9 155.4h0M167.2 159.8h0M169.5 158.0h0M169.8 153.8h0M172.6 157.1h0M169.9 152.8h0M164.6 155.8h0M171.3 157.9h0M166.5 151.4h0M168.2 158.8h0M164.6 157.4h0M164.7 153.1h0M163.5 153.0h0M166.8 159.7h0M172.6 151.9h0M166.1 159.4h0M165.0 153.2h0M167.4 151.1h0M165.6 153.9h0M166.9 159.6h0M165.7 152.0h0M172.1 154.5h0M171.4 156.4h0M170.8 153.1h0M164.5 157.6h0M167.7 155.6h0M169.7 157.5h0M165.8 153.6h0M172.2 155.3h0M165.9 156.3h0M165.6 157.7h0M163.4 158.3h0M168.7 153.5h0M172.4 152.7h0M165.4 150.7h0M168.5 157.5h0M169.8 154.1h0M171.1 151.1h0M166.1 156.4h0M172.7 156.3h0M169.9 157.7h0M166.9 159.4h0M170.4 153.4h0M166.9 158.1h0M166.5 151.9h0M171.7 155.3h0M168.2 156.7h0M172.0 151.3h0M166.4 150.7h0M167.1 155.0h0M171.5 156.7h0M168.8 154.0h0M168.7 152.7h0M171.4 157.9h0M171.4 151.5h0M169.7 157.5h0M168.0 159.0h0M172.0 157.4h0M171.2 156.5h0M171.8 151.3h0M170.0 157.0h0M169.1 152.8h0M163.7 156.0h0M171.2 152.7h0M165.1 152.2h0M179.8 159.7h0M181.0 153.6h0M180.0 150.7h0M181.4 153.3h0M173.0 156.3h0M174.4 152.8h0M173.6 154.5h0M178.5 158.1h0M173.4 158.3h0M174.1 152.2h0M179.3 153.4h0M176.3 155.7h0M175.2 157.9h0M175.1 158.4h0M181.1 155.4h0M173.3 157.8h0M173.3 155.0h0M177.2 150.6h0M179.3 157.2h0M178.8 154.0h0M178.1 155.9h0M175.3 158.7h0M183.0 158.0h0M182.6 153.3h0M182.9 150.7h0M177.8 151.3h0M177.5 156.8h0M180.1 154.5h0M176.4 151.9h0M177.0 152.8h0M174.9 157.4h0M178.2 154.4h0M175.0 157.0h0M175.0 152.7h0M178.6 157.0h0M182.7 157.5h0M182.5 159.2h0M180.2 157.2h0M173.6 152.1h0M173.1 158.6h0M180.2 156.3h0M175.6 153.6h0M174.6 156.3h0M182.9 153.1h0M173.4 151.8h0M176.6 159.0h0M181.0 154.6h0M174.0 151.1h0M174.5 157.8h0M177.7 159.9h0M182.1 157.9h0M177.8 158.2h0M174.3 151.1h0M178.6 155.1h0M175.1 152.5h0M173.2 159.1h0M180.1 159.5h0M182.8 154.4h0M180.3 153.8h0M181.1 158.4h0M174.3 150.1h0M175.1 155.9h0M176.8 150.1h0M181.3 157.9h0M177.6 150.4h0M181.9 155.3h0M173.7 153.2h0M179.2 158.9h0M177.8 156.4h0M175.1 152.4h0M182.1 153.8h0M174.0 155.9h0M174.3 152.0h0M177.6 155.9h0M190.1 154.4h0M183.7 157.2h0M183.5 154.7h0M187.0 156.7h0M190.1 152.4h0M189.5 156.9h0M187.7 151.4h0M192.1 156.0h0M183.6 152.4h0M192.9 152.3h0M186.9 157.9h0M191.2 156.3h0M190.4 150.4h0M183.9 159.8h0M191.0 150.4h0M183.5 152.4h0M192.3 152.2h0M189.7 159.3h0M189.4 159.2h0M185.6 151.5h0M183.2 157.6h0M184.0 159.7h0M190.1 151.9h0M191.1 151.6h0M188.1 151.1h0M190.9 158.9h0M192.2 150.0h0M191.5 155.6h0M191.2 155.0h0M189.2 155.9h0M191.0 150.8h0M183.5 155.5h0M185.9 154.0h0M183.1 157.4h0M183.2 158.3h0M191.1 154.6h0M184.2 156.5h0M185.1 154.3h0M184.1 159.8h0M188.5 153.5h0M183.9 157.3h0M191.5 158.5h0M184.0 153.7h0M186.0 157.6h0M184.5 156.1h0M192.8 157.7h0M183.1 150.7h0M184.1 156.9h0M189.0 155.2h0M187.6 154.1h0M189.1 156.5h0M192.2 157.3h0M191.0 159.1h0M191.4 157.2h0M183.3 156.8h0M191.5 154.3h0M191.8 151.8h0M192.4 154.4h0M190.1 152.5h0M186.0 153.5h0M186.2 150.9h0M187.4 159.8h0M189.5 159.3h0M190.6 158.4h0M192.9 157.5h0M185.7 152.5h0M187.1 150.2h0M185.3 158.9h0M192.2 153.3h0M190.7 157.7h0M191.9 157.9h0M188.3 151.0h0M191.3 153.1h0M189.3 153.7h0M188.4 159.7h0M198.3 156.5h0M198.4 159.4h0M197.1 159.1h0M199.9 159.7h0M193.9 152.1h0M195.9 159.1h0M193.1 152.6h0M200.2 159.9h0M194.8 154.4h0M199.9 156.9h0M200.5 157.5h0M195.5 152.6h0M193.3 156.9h0M195.1 152.6h0M202.6 156.4h0M198.9 156.6h0M199.0 156.9h0M196.0 150.6h0M193.7 150.1h0M196.6 151.4h0M194.1 154.9h0M202.7 156.9h0M195.7 157.7h0M194.8 151.0h0M196.0 154.1h0M199.9 154.4h0M200.3 150.9h0M202.3 153.4h0M201.3 150.3h0M201.3 152.3h0M201.6 158.0h0M199.7 152.8h0M193.1 151.9h0M202.0 151.6h0M199.6 155.9h0M199.6 151.8h0M194.4 151.0h0M202.8 153.8h0M199.5 155.7h0M195.2 150.6h0M193.1 158.5h0M194.3 159.6h0M196.6 157.2h0M194.4 157.9h0M195.5 153.7h0M198.2 151.1h0M195.5 158.0h0M195.9 153.8h0M200.6 152.2h0M194.9 152.2h0M196.8 153.7h0M199.4 154.7h0M201.7 150.5h0M199.6 158.4h0M195.3 150.3h0M197.4 151.2h0M197.6 157.1h0M193.9 151.2h0M197.8 151.7h0M195.3 154.4h0M194.2 150.7h0M196.6 154.7h0M202.4 155.5h0M193.7 152.2h0M200.4 155.6h0M201.7 159.6h0M201.6 151.1h0M202.4 155.2h0M195.4 151.7h0M201.6 152.1h0M193.8 152.7h0M202.2 154.6h0M200.3 150.7h0M197.5 153.2h0M209.6 153.6h0M204.2 159.8h0M207.8 151.8h0M203.1 156.5h0M208.1 150.2h0M207.7 157.4h0M208.4 152.3h0M208.0 156.0h0M209.5 151.5h0M211.0 159.5h0M210.4 158.6h0M206.7 159.0h0M204.8 152.3h0M209.0 159.0h0M203.8 152.2h0M203.4 154.4h0M204.4 151.9h0M210.5 155.8h0M212.4 154.0h0M209.8 150.1h0M212.5 152.3h0M207.8 155.1h0M212.5 154.9h0M212.9 156.2h0M205.2 158.3h0M205.0 160.0h0M207.6 152.3h0M212.6 153.2h0M207.1 153.4h0M209.7 150.2h0M206.7 151.6h0M211.3 150.0h0M209.1 152.6h0M207.5 155.6h0M210.1 151.4h0M205.4 151.2h0M212.6 151.5h0M204.4 155.2h0M208.8 158.9h0M203.6 152.3h0M204.7 155.9h0M207.5 154.1h0M211.9 156.6h0M211.6 159.6h0M205.7 159.4h0M207.1 150.5h0M212.1 151.0h0M203.2 152.9h0M205.9 159.7h0M211.7 154.2h0M208.3 158.5h0M211.1 156.5h0M208.1 151.2h0M205.4 156.6h0M208.9 158.0h0M212.0 159.6h0M204.9 150.8h0M212.0 155.7h0M204.8 156.9h0M205.6 152.4h0M206.7 155.2h0M209.8 150.7h0M210.4 156.2h0M207.7 156.7h0M211.0 150.1h0M207.8 156.8h0M219.5 151.8h0M222.6 157.9h0M215.3 154.3h0M222.6 152.1h0M217.1 159.6h0M222.0 152.3h0M220.4 153.6h0M219.6 157.7h0M214.3 152.2h0M215.1 152.7h0M213.4 151.4h0M217.1 154.2h0M213.8 155.8h0M222.4 155.8h0M216.6 157.0h0M217.4 151.8h0M217.8 150.2h0M219.8 151.6h0M216.7 159.6h0M220.7 158.4h0M219.4 156.3h0M220.0 159.7h0M215.0 157.7h0M216.0 152.6h0M221.2 156.0h0M221.5 158.8h0M218.9 152.0h0M213.2 155.3h0M220.3 152.7h0M213.7 150.0h0M214.7 157.0h0M213.0 152.3h0M215.7 157.1h0M222.9 150.2h0M214.1 159.3h0M222.7 151.5h0M216.4 155.2h0M216.2 154.2h0M217.8 152.6h0M213.5 150.8h0M214.6 150.9h0M219.2 157.0h0M215.6 157.9h0M220.3 153.4h0M217.9 151.9h0M222.3 155.6h0M213.5 151.5h0M219.9 153.9h0M220.2 152.3h0M221.0 158.0h0M213.9 155.9h0M214.9 157.1h0M221.0 157.9h0M215.3 150.9h0M219.6 155.7h0M214.4 151.9h0M218.8 151.1h0M219.3 152.4h0M215.6 154.2h0M218.3 157.2h0M213.3 157.2h0M215.2 152.9h0M219.4 156.9h0M219.1 159.0h0M215.0 153.1h0M219.6 152.6h0M225.3 157.7h0M231.3 157.2h0M232.6 157.9h0M226.1 153.2h0M230.2 150.6h0M229.1 150.9h0M223.5 155.1h0M224.5 159.3h0M231.8 154.6h0M225.0 151.2h0M228.1 155.2h0M226.6 157.2h0M228.3 157.8h0M224.1 150.7h0M226.9 154.8h0M225.5 156.7h0M225.2 153.2h0M227.8 157.1h0M230.7 153.7h0M227.5 159.3h0M232.3 156.2h0M224.0 154.6h0M229.4 152.8h0M223.4 159.8h0M232.1 151.3h0M227.7 156.2h0M226.0 150.7h0M230.5 157.7h0M227.4 150.9h0M226.9 150.9h0M232.6 150.5h0M225.9 157.7h0M224.4 151.1h0M223.7 151.6h0M228.3 158.3h0M224.7 151.7h0M230.6 154.3h0M226.4 151.2h0M225.4 159.7h0M224.2 152.6h0M230.4 158.9h0M232.0 154.7h0M232.6 156.0h0M225.9 154.7h0M230.2 157.3h0M224.3 151.9h0M232.6 151.1h0M231.1 153.4h0M225.5 152.6h0M227.7 159.9h0M224.5 158.5h0M226.2 151.7h0M230.4 153.4h0M224.9 154.2h0M231.2 158.6h0M228.7 150.1h0M230.6 156.1h0M232.0 159.5h0M226.3 158.5h0M231.2 152.7h0M226.7 153.7h0M226.5 153.8h0M224.1 152.3h0M232.1 154.1h0M229.4 158.9h0M230.6 152.4h0M241.0 159.9h0M240.3 157.5h0M241.1 152.5h0M239.6 153.8h0M241.4 151.3h0M238.4 153.4h0M241.2 153.5h0M241.4 158.5h0M241.8 151.4h0M242.4 157.4h0M239.8 156.5h0M233.5 158.7h0M238.5 154.6h0M236.4 157.8h0M240.8 158.7h0M235.1 153.4h0M235.5 151.0h0M236.3 150.3h0M241.0 152.3h0M233.7 150.7h0M240.4 152.0h0M237.6 154.0h0M241.0 159.5h0M236.1 156.3h0M241.9 154.7h0M242.0 157.3h0M236.1 158.7h0M238.7 151.1h0M238.9 158.3h0M238.2 154.8h0M237.2 158.8h0M239.7 152.1h0M236.6 153.6h0M242.6 157.0h0M234.2 159.1h0M233.3 155.9h0M237.3 157.2h0M237.3 150.9h0M238.2 158.2h0M240.9 153.6h0M235.2 157.4h0M241.0 152.2h0M241.8 159.9h0M237.3 153.8h0M240.1 159.3h0M235.0 153.0h0M250.3 151.9h0M248.5 155.0h0M124.4 169.6h0M133.0 165.6h0M131.0 161.8h0M132.1 165.5h0M130.6 168.7h0M126.6 169.2h0M125.1 160.2h0M128.0 169.0h0M132.0 169.5h0M128.1 169.3h0M134.4 166.3h0M141.0 164.2h0M139.0 162.6h0M135.8 164.2h0M138.1 164.7h0M133.9 160.1h0M136.4 167.2h0M140.5 162.4h0M135.6 165.2h0M134.8 166.0h0M142.0 162.0h0M138.9 167.2h0M140.5 167.1h0M140.1 162.7h0M141.4 169.3h0M133.5 169.4h0M137.4 160.9h0M133.7 168.0h0M144.4 164.6h0M149.4 170.0h0M146.4 167.7h0M145.5 162.0h0M144.6 164.1h0M149.2 163.0h0M144.6 162.2h0M143.8 161.9h0M146.2 165.0h0M144.8 164.8h0M147.4 169.7h0M147.9 169.4h0M147.7 162.0h0M148.9 161.4h0M144.7 160.7h0M150.0 169.7h0M147.0 163.5h0M147.3 163.5h0M149.9 163.9h0M144.5 168.6h0M148.7 160.1h0M151.5 167.3h0M146.5 166.3h0M152.2 164.0h0M147.3 163.0h0M148.5 166.6h0M150.4 169.5h0M144.5 163.7h0M151.5 167.9h0M148.9 166.8h0M146.4 169.4h0M148.5 164.0h0M144.8 161.2h0M161.0 160.3h0M156.2 164.8h0M158.0 163.6h0M162.0 163.5h0M158.3 169.3h0M159.4 164.8h0M156.3 163.9h0M159.1 167.9h0M155.6 163.7h0M156.9 163.6h0M162.1 165.4h0M155.8 163.3h0M161.2 161.6h0M159.9 160.2h0M154.9 160.6h0M161.1 161.5h0M155.3 160.6h0M155.6 167.3h0M160.2 169.1h0M162.5 165.5h0M162.2 160.9h0M162.3 164.3h0M154.9 167.5h0M161.6 163.9h0M153.9 168.7h0M160.5 166.0h0M162.8 160.4h0M153.6 161.2h0M153.2 167.1h0M159.3 161.1h0M154.6 161.8h0M159.1 166.7h0M162.7 163.6h0M162.8 164.3h0M156.9 162.5h0M155.3 169.7h0M162.9 167.1h0M154.8 161.8h0M154.5 163.5h0M160.4 160.6h0M158.3 166.8h0M153.3 164.4h0M160.9 165.8h0M157.5 168.8h0M159.0 163.4h0M157.0 169.4h0M161.6 169.1h0M158.6 161.4h0M154.8 163.8h0M159.9 160.0h0M161.0 167.9h0M158.1 160.1h0M161.0 164.1h0M159.7 165.7h0M160.3 164.1h0M162.6 169.6h0M162.3 166.2h0M156.2 163.8h0M155.7 169.0h0M160.9 167.9h0M161.2 169.9h0M159.9 163.2h0M160.6 162.6h0M159.1 161.6h0M161.6 164.9h0M155.8 169.2h0M153.8 169.3h0M160.6 161.5h0M160.6 165.7h0M162.1 165.9h0M157.3 169.3h0M153.9 167.8h0M154.0 162.8h0M154.1 168.7h0M157.4 167.3h0M170.3 166.5h0M164.0 164.9h0M170.2 162.1h0M169.5 162.8h0M166.7 169.2h0M172.4 170.0h0M167.3 165.7h0M171.1 167.6h0M167.6 168.6h0M167.0 169.5h0M167.7 161.2h0M170.5 161.4h0M169.8 160.5h0M172.9 165.4h0M170.4 161.3h0M169.4 163.8h0M165.5 168.1h0M163.3 164.8h0M163.9 168.5h0M171.9 160.3h0M167.6 164.7h0M170.2 167.3h0M166.4 169.3h0M164.9 161.4h0M171.1 161.2h0M164.9 165.0h0M166.4 161.6h0M172.3 164.7h0M170.9 162.5h0M172.1 162.2h0M172.1 166.1h0M172.7 167.7h0M169.3 165.3h0M171.5 164.4h0M164.0 169.1h0M171.1 166.8h0M170.4 162.3h0M167.6 168.2h0M172.6 169.2h0M164.6 166.8h0M168.5 164.1h0M164.7 161.4h0M167.7 164.9h0M165.7 163.7h0M168.5 167.6h0M168.9 161.6h0M171.9 163.7h0M172.6 169.8h0M164.4 165.8h0M172.7 163.9h0M168.5 163.1h0M163.3 162.0h0M164.2 162.8h0M169.3 165.6h0M172.5 166.9h0M166.6 169.5h0M169.3 165.4h0M171.6 166.7h0M166.6 166.0h0M166.0 169.7h0M165.4 169.7h0M163.6 160.1h0M168.5 162.1h0M168.1 161.2h0M171.4 166.7h0M169.8 169.3h0M172.9 166.8h0M170.1 160.0h0M163.5 164.3h0M172.7 163.1h0M168.7 160.1h0M167.2 169.0h0M168.9 168.2h0M163.1 162.0h0M181.3 161.0h0M182.3 162.7h0M181.8 165.2h0M176.2 169.7h0M177.1 167.0h0M173.7 168.3h0M182.8 161.1h0M180.5 162.7h0M174.5 163.6h0M179.6 169.5h0M182.9 169.9h0M179.2 166.5h0M174.6 167.3h0M178.5 163.6h0M182.0 162.6h0M174.4 161.6h0M174.5 165.9h0M181.0 161.6h0M178.0 165.7h0M178.6 164.1h0M178.4 160.2h0M173.6 164.2h0M175.4 167.6h0M175.4 168.2h0M175.4 160.9h0M177.8 163.9h0M176.4 167.7h0M175.2 166.7h0M181.3 164.5h0M178.0 169.2h0M179.0 161.8h0M173.7 160.8h0M176.3 160.9h0M179.5 164.2h0M176.1 165.1h0M182.4 162.4h0M174.5 163.1h0M176.2 169.1h0M180.1 164.3h0M174.7 160.5h0M174.2 168.5h0M179.5 161.6h0M179.3 160.6h0M178.1 163.4h0M174.0 167.4h0M180.2 165.1h0M174.7 166.7h0M177.3 166.6h0M173.9 169.0h0M173.0 162.2h0M177.0 162.0h0M173.9 166.9h0M182.9 163.3h0M175.7 166.7h0M175.2 164.0h0M179.9 164.3h0M174.6 160.7h0M178.4 169.9h0M182.2 161.0h0M178.0 164.9h0M174.9 166.7h0M178.0 168.1h0M175.9 169.3h0M181.1 164.7h0M174.4 164.8h0M174.3 166.9h0M180.0 165.8h0M182.8 160.5h0M180.2 168.0h0M174.1 163.2h0M173.5 165.8h0M180.2 163.5h0M180.0 163.7h0M180.1 162.8h0M187.4 160.0h0M183.9 167.3h0M191.6 166.4h0M184.6 168.7h0M190.2 161.2h0M186.8 166.7h0M183.0 160.4h0M186.5 168.7h0M193.0 163.2h0M192.1 167.9h0M191.7 165.9h0M192.7 166.4h0M192.5 165.7h0M185.0 165.2h0M187.8 163.4h0M186.7 165.1h0M188.9 162.2h0M185.8 165.0h0M188.0 164.2h0M189.6 161.9h0M188.3 162.8h0M190.7 167.0h0M190.8 165.2h0M185.5 169.3h0M188.1 163.8h0M185.9 164.0h0M190.1 168.2h0M187.8 167.3h0M185.1 164.5h0M186.6 163.1h0M186.6 167.5h0M190.3 162.1h0M185.3 167.8h0M189.5 166.8h0M189.4 166.9h0M185.7 160.6h0M186.6 160.3h0M192.6 165.2h0M189.7 169.7h0M191.0 162.3h0M186.4 161.1h0M191.0 167.4h0M187.9 163.7h0M185.7 164.9h0M190.1 169.0h0M191.5 168.7h0M187.4 164.2h0M186.1 169.7h0M184.8 161.6h0M185.8 169.2h0M191.5 163.3h0M191.5 168.9h0M187.3 161.9h0M190.7 163.7h0M184.2 169.0h0M187.4 164.0h0M189.0 162.6h0M183.2 163.9h0M186.8 160.1h0M186.7 167.6h0M186.3 166.8h0M189.2 161.9h0M183.2 166.7h0M189.1 162.9h0M185.0 168.6h0M192.1 162.3h0M188.9 165.7h0M186.2 160.4h0M186.3 166.4h0M189.0 165.1h0M184.2 162.1h0M186.1 164.2h0M186.6 169.0h0M184.2 169.9h0M185.4 168.6h0M198.9 163.8h0M193.4 168.0h0M201.1 162.7h0M200.8 164.8h0M202.9 160.5h0M196.8 162.3h0M199.2 167.8h0M201.4 165.5h0M196.9 168.0h0M194.0 162.6h0M200.5 164.4h0M202.9 160.9h0M197.6 162.1h0M193.0 160.9h0M193.9 163.7h0M197.3 165.1h0M195.9 167.0h0M198.2 169.8h0M194.7 165.1h0M197.9 163.7h0M201.6 162.1h0M201.8 163.6h0M196.4 166.1h0M198.6 162.8h0M193.8 169.6h0M196.7 161.1h0M199.6 165.3h0M196.3 163.3h0M201.5 163.4h0M197.2 169.6h0M196.6 164.0h0M194.6 166.6h0M199.6 164.5h0M197.1 162.3h0M200.9 164.6h0M201.3 163.7h0M200.3 160.3h0M195.2 169.6h0M199.8 166.8h0M198.0 164.7h0M195.0 161.7h0M199.5 166.9h0M195.6 166.4h0M194.4 166.1h0M194.7 165.1h0M196.1 165.5h0M194.3 164.8h0M199.2 161.3h0M196.1 166.8h0M198.5 166.2h0M200.8 165.7h0M195.2 164.4h0M201.3 165.7h0M200.5 163.6h0M197.5 169.7h0M201.2 166.5h0M194.1 166.1h0M193.3 169.3h0M202.7 167.3h0M195.7 168.5h0M194.8 168.3h0M198.2 160.2h0M201.9 164.4h0M201.3 166.9h0M198.3 168.6h0M195.0 169.0h0M196.4 160.3h0M196.4 160.7h0M193.7 166.2h0M194.2 161.6h0M195.9 162.8h0M202.2 169.1h0M201.7 169.9h0M197.4 168.0h0M212.3 168.1h0M210.3 162.3h0M203.9 169.3h0M208.5 166.1h0M211.6 161.4h0M210.0 164.6h0M210.9 164.6h0M205.0 169.6h0M205.8 167.4h0M211.3 162.5h0M210.0 164.0h0M205.2 162.2h0M212.5 163.7h0M208.1 165.0h0M203.3 167.5h0M210.5 168.8h0M206.6 162.1h0M206.5 167.3h0M209.6 164.1h0M208.2 161.5h0M212.2 164.7h0M208.1 167.9h0M205.0 167.2h0M206.5 168.1h0M203.9 162.8h0M209.4 164.8h0M206.8 165.8h0M205.2 164.4h0M203.0 168.0h0M205.5 168.3h0M208.5 166.0h0M209.3 161.3h0M210.8 162.9h0M211.6 167.9h0M209.8 168.2h0M207.4 166.7h0M212.5 161.9h0M204.0 164.1h0M208.1 161.5h0M205.2 168.7h0M206.9 161.5h0M204.8 165.8h0M204.9 164.8h0M208.4 164.4h0M208.0 168.4h0M203.2 169.3h0M205.0 160.4h0M210.7 165.7h0M208.4 162.2h0M210.8 163.1h0M210.3 162.3h0M208.7 166.5h0M206.7 164.8h0M203.7 166.4h0M209.9 161.5h0M208.5 167.3h0M204.0 168.4h0M211.7 160.5h0M205.5 160.8h0M205.5 160.9h0M207.9 162.5h0M206.0 164.6h0M206.7 167.9h0M210.2 161.1h0M205.2 160.1h0M206.3 161.1h0M220.8 170.0h0M215.1 160.4h0M220.6 164.1h0M222.3 163.9h0M216.1 160.7h0M222.5 165.1h0M217.4 164.4h0M220.7 168.3h0M217.8 161.8h0M217.1 168.9h0M217.1 166.6h0M218.6 164.6h0M218.7 162.5h0M218.6 168.6h0M213.8 163.7h0M221.8 169.8h0M213.1 166.3h0M219.3 168.4h0M217.7 161.3h0M216.0 167.1h0M220.3 162.0h0M219.4 166.6h0M219.6 160.2h0M217.4 163.2h0M219.0 163.4h0M214.3 166.7h0M215.9 167.9h0M216.1 165.5h0M221.1 161.2h0M220.3 160.7h0M222.4 160.3h0M220.2 163.7h0M214.8 163.9h0M218.0 164.1h0M214.2 165.2h0M216.0 169.7h0M216.8 164.4h0M215.3 169.7h0M216.2 166.5h0M221.3 163.9h0M220.6 162.8h0M214.1 160.4h0M217.5 168.7h0M215.0 164.4h0M220.6 162.8h0M214.5 165.2h0M217.3 169.4h0M222.0 162.4h0M218.6 164.2h0M213.3 164.4h0M222.2 163.0h0M218.9 167.1h0M213.6 169.2h0M214.1 163.0h0M220.2 160.2h0M216.8 161.3h0M217.7 160.2h0M214.5 162.2h0M213.8 160.9h0M214.9 165.2h0M214.4 168.2h0M217.2 162.5h0M215.4 168.4h0M213.5 167.4h0M214.0 169.4h0M217.1 166.0h0M224.0 160.6h0M229.9 165.9h0M230.2 162.8h0M228.0 161.9h0M227.4 162.8h0M228.9 163.0h0M225.7 166.4h0M223.9 168.0h0M228.0 162.3h0M224.1 165.1h0M228.0 167.2h0M226.7 164.1h0M231.9 162.7h0M232.8 168.9h0M232.9 169.4h0M225.6 168.1h0M229.1 162.0h0M233.0 166.5h0M231.1 165.6h0M223.8 168.6h0M224.8 162.6h0M229.2 161.9h0M227.6 167.1h0M224.0 166.6h0M224.0 164.8h0M229.5 166.9h0M223.4 161.9h0M232.6 163.9h0M227.2 163.7h0M230.0 167.4h0M229.5 164.0h0M228.7 165.2h0M224.9 169.5h0M232.6 167.8h0M232.9 164.7h0M231.4 162.4h0M230.4 167.1h0M232.4 168.3h0M231.8 162.7h0M230.9 164.8h0M226.1 163.7h0M231.0 168.4h0M231.4 166.7h0M224.7 161.6h0M228.7 162.1h0M226.4 161.0h0M130.2 172.2h0M131.5 173.3h0M131.5 173.0h0M125.7 173.9h0M123.1 174.4h0M126.8 170.1h0M131.6 173.8h0M123.0 179.6h0M125.3 172.5h0M123.2 171.0h0M130.1 175.8h0M128.0 172.5h0M125.9 179.7h0M142.9 178.9h0M134.2 178.5h0M133.2 177.1h0M141.1 177.0h0M138.5 178.1h0M134.5 175.4h0M135.7 174.0h0M134.9 177.1h0M138.7 177.8h0M139.3 176.0h0M142.2 178.1h0M138.7 173.3h0M142.3 173.7h0M134.0 173.3h0M140.1 179.3h0M139.5 176.6h0M142.4 177.8h0M137.5 174.6h0M146.2 171.1h0M149.2 178.1h0M145.5 176.8h0M151.9 171.3h0M144.4 174.9h0M146.3 179.5h0M153.0 174.5h0M150.9 176.3h0M144.7 179.7h0M144.7 170.8h0M147.5 170.2h0M147.8 174.1h0M152.5 174.1h0M151.5 177.8h0M148.9 172.4h0M146.0 174.9h0M147.0 176.5h0M148.1 173.2h0M149.1 180.0h0M145.0 173.4h0M143.1 170.9h0M143.6 174.2h0M151.4 177.0h0M152.7 178.4h0M148.9 175.8h0M143.1 173.8h0M145.6 176.2h0M143.7 175.4h0M146.8 174.9h0M147.0 171.0h0M150.3 178.0h0M149.0 171.2h0M149.0 178.7h0M152.9 177.6h0M143.5 178.8h0M149.7 172.8h0M152.2 178.3h0M152.0 172.5h0M148.8 173.8h0M146.0 177.6h0M149.2 173.3h0M148.4 179.3h0M148.7 179.1h0M148.7 179.9h0M143.3 174.6h0M148.5 177.3h0M159.2 174.8h0M159.3 175.3h0M160.0 179.5h0M153.1 173.2h0M161.8 170.6h0M160.9 170.3h0M159.5 178.0h0M155.4 173.8h0M155.3 177.0h0M158.3 176.1h0M156.3 175.9h0M162.5 177.8h0M162.5 172.5h0M158.2 173.9h0M156.5 178.0h0M154.7 175.6h0M160.7 179.4h0M153.2 172.7h0M157.9 179.4h0M154.6 178.4h0M157.0 175.5h0M162.3 170.6h0M156.3 171.6h0M154.3 173.0h0M160.0 175.8h0M154.2 178.0h0M158.1 171.4h0M161.2 178.2h0M155.2 179.4h0M161.1 172.3h0M153.0 178.7h0M161.3 171.0h0M160.7 177.7h0M159.3 178.3h0M162.8 173.3h0M161.3 179.2h0M156.1 176.8h0M159.8 178.5h0M158.7 172.8h0M155.5 175.4h0M154.4 178.6h0M161.9 172.4h0M160.0 176.7h0M154.2 177.8h0M160.7 173.1h0M154.0 172.8h0M160.7 174.7h0M161.2 171.6h0M154.1 173.5h0M161.8 171.6h0M153.7 177.5h0M153.9 176.7h0M153.8 172.5h0M159.6 178.7h0M157.1 174.5h0M153.3 173.4h0M155.4 177.9h0M160.1 177.8h0M158.3 177.0h0M154.3 173.9h0M155.9 172.8h0M160.4 172.1h0M156.3 172.8h0M161.6 176.4h0M157.8 173.8h0M162.2 179.4h0M157.5 175.7h0M161.6 172.6h0M155.6 171.0h0M158.0 177.7h0M154.6 174.3h0M162.9 174.8h0M156.8 178.4h0M161.9 173.8h0M154.2 176.4h0M172.2 176.6h0M166.1 175.1h0M165.9 174.5h0M167.7 179.1h0M172.1 179.3h0M167.8 179.6h0M164.4 179.2h0M169.4 178.7h0M167.1 179.9h0M163.3 178.5h0M171.2 173.7h0M171.3 172.1h0M170.5 174.7h0M167.1 172.0h0M171.0 177.3h0M163.9 179.8h0M165.2 173.8h0M167.1 175.8h0M171.9 179.5h0M169.3 173.7h0M164.1 170.7h0M168.2 175.8h0M167.5 179.8h0M167.1 173.5h0M167.2 171.7h0M172.4 175.9h0M168.4 174.3h0M165.5 173.2h0M167.9 174.5h0M172.8 175.6h0M165.1 170.5h0M164.6 173.5h0M170.8 178.9h0M165.4 177.8h0M167.4 175.4h0M168.3 170.4h0M163.7 176.7h0M169.9 173.8h0M172.2 178.2h0M166.0 170.7h0M168.5 176.5h0M165.2 170.4h0M167.9 170.3h0M170.4 176.3h0M165.8 174.5h0M165.3 171.9h0M164.8 178.2h0M167.5 177.2h0M166.5 178.1h0M169.0 176.5h0M166.9 175.6h0M164.9 179.7h0M169.7 175.3h0M169.4 171.0h0M166.3 172.3h0M171.4 170.1h0M167.4 178.7h0M170.8 177.2h0M166.0 172.3h0M170.0 173.0h0M170.2 173.5h0M170.6 175.7h0M171.2 179.9h0M166.8 179.9h0M163.1 178.8h0M163.3 175.5h0M166.9 177.7h0M166.2 172.1h0M170.8 175.5h0M170.6 174.9h0M163.4 177.7h0M165.2 174.7h0M163.0 172.6h0M169.7 177.6h0M169.4 174.4h0M179.7 172.1h0M178.4 176.0h0M180.3 172.0h0M176.1 173.4h0M174.0 173.5h0M180.3 175.8h0M174.7 177.3h0M174.2 177.5h0M174.5 171.0h0M175.5 175.1h0M175.7 178.8h0M182.4 172.8h0M180.5 177.0h0M178.6 172.5h0M182.5 179.6h0M173.1 173.3h0M176.2 172.0h0M177.3 179.0h0M173.2 178.4h0M176.1 170.1h0M182.0 172.7h0M175.1 171.2h0M176.7 171.2h0M174.8 172.5h0M178.8 174.5h0M176.1 175.3h0M180.7 177.2h0M176.4 179.2h0M180.9 175.6h0M177.8 173.3h0M174.3 178.9h0M179.1 171.0h0M182.3 178.9h0M173.3 177.0h0M175.4 175.4h0M181.3 173.5h0M178.0 176.7h0M174.9 176.3h0M177.3 179.8h0M174.9 177.1h0M173.4 172.7h0M174.2 171.5h0M178.3 171.7h0M180.9 171.0h0M179.2 178.6h0M174.3 172.2h0M180.6 174.7h0M182.3 173.4h0M177.0 179.6h0M176.4 179.7h0M181.9 172.0h0M178.5 179.4h0M174.2 178.5h0M180.7 177.5h0M179.0 171.0h0M182.6 171.0h0M180.8 177.2h0M176.2 176.8h0M177.1 177.5h0M173.4 179.3h0M176.8 178.0h0M177.7 178.1h0M176.0 175.5h0M173.3 174.9h0M173.8 178.6h0M179.8 174.3h0M182.7 179.5h0M182.6 170.8h0M180.0 177.3h0M179.1 170.2h0M182.2 174.4h0M179.0 178.1h0M175.8 170.3h0M182.2 172.7h0M173.4 171.4h0M190.4 172.1h0M184.5 179.0h0M189.6 175.8h0M184.3 174.1h0M192.5 170.0h0M187.2 170.6h0M193.0 171.0h0M192.5 178.4h0M190.3 170.4h0M190.0 174.9h0M187.9 171.5h0M188.1 178.0h0M184.3 178.8h0M187.2 172.7h0M185.4 174.6h0M189.5 175.7h0M191.9 175.1h0M188.1 179.9h0M185.2 170.2h0M186.3 173.1h0M184.2 174.2h0M183.3 179.2h0M187.8 178.8h0M190.0 177.3h0M190.6 173.0h0M190.3 172.1h0M188.5 176.0h0M190.8 171.7h0M186.4 178.2h0M191.0 179.8h0M184.2 172.1h0M184.1 177.2h0M190.5 176.5h0M190.8 175.2h0M188.6 179.2h0M189.5 176.6h0M188.9 174.9h0M190.6 175.7h0M184.3 174.3h0M187.2 174.3h0M188.6 173.6h0M186.9 174.3h0M186.7 179.7h0M183.9 170.2h0M190.2 174.0h0M187.5 175.9h0M186.7 172.4h0M183.2 178.7h0M192.4 172.9h0M187.7 173.2h0M183.6 178.9h0M191.4 172.4h0M185.5 177.0h0M191.0 174.7h0M186.9 172.3h0M191.0 178.6h0M191.6 171.1h0M188.9 179.9h0M190.2 174.6h0M184.5 170.6h0M190.3 170.7h0M191.1 176.7h0M187.7 178.9h0M192.3 176.2h0M184.0 175.9h0M187.2 172.5h0M192.3 177.3h0M184.2 172.3h0M186.4 175.7h0M186.2 174.4h0M191.1 171.8h0M190.2 173.3h0M192.4 179.5h0M186.3 176.1h0M184.1 174.1h0M199.4 173.4h0M193.3 171.2h0M198.6 171.7h0M196.1 176.2h0M202.0 175.2h0M195.5 175.9h0M195.8 177.8h0M194.6 172.6h0M197.4 179.1h0M194.7 171.9h0M194.3 172.1h0M196.3 174.0h0M200.6 174.0h0M197.8 174.0h0M200.7 179.0h0M197.3 179.2h0M195.5 179.8h0M198.3 176.8h0M196.8 172.7h0M194.4 178.9h0M196.6 177.0h0M197.6 175.3h0M195.1 171.8h0M196.4 176.8h0M198.4 170.0h0M200.1 174.3h0M193.7 172.6h0M195.1 178.2h0M198.5 173.3h0M195.5 172.9h0M195.8 173.5h0M200.9 177.9h0M200.0 178.8h0M199.5 171.1h0M193.4 171.6h0M195.6 175.3h0M201.2 175.9h0M197.3 172.4h0M202.8 177.5h0M196.4 170.5h0M202.8 172.6h0M201.5 171.2h0M199.5 173.6h0M201.9 173.0h0M194.0 172.0h0M201.1 179.8h0M199.4 176.8h0M195.8 172.7h0M193.9 179.8h0M193.4 176.1h0M196.5 171.9h0M197.4 179.3h0M195.5 171.6h0M199.3 176.6h0M198.1 171.8h0M201.7 171.1h0M194.7 172.4h0M198.1 174.8h0M198.5 177.3h0M201.9 174.7h0M193.4 178.3h0M193.2 173.2h0M194.4 176.0h0M200.8 171.3h0M195.9 178.5h0M199.9 171.1h0M199.9 177.9h0M197.1 171.6h0M199.6 173.2h0M194.3 171.6h0M197.0 171.3h0M196.9 175.5h0M198.5 174.0h0M201.0 170.9h0M196.3 179.3h0M212.2 177.7h0M208.4 177.9h0M208.7 171.2h0M205.6 171.0h0M211.8 173.2h0M207.1 175.4h0M204.0 177.1h0M211.0 178.0h0M211.8 173.2h0M204.5 177.6h0M209.9 173.7h0M206.4 171.5h0M211.3 174.6h0M211.1 173.4h0M206.2 175.1h0M210.5 178.8h0M206.5 176.9h0M207.0 178.6h0M210.6 175.6h0M206.6 172.7h0M211.8 178.0h0M206.1 170.8h0M205.0 179.6h0M203.4 178.1h0M208.3 175.5h0M208.4 174.1h0M208.6 170.9h0M212.2 171.0h0M204.4 176.7h0M209.4 178.1h0M209.9 179.3h0M203.5 170.1h0M205.4 177.8h0M204.5 175.3h0M210.7 171.6h0M208.3 179.0h0M210.5 174.0h0M207.8 172.8h0M212.6 177.8h0M209.8 173.0h0M210.3 174.9h0M211.0 173.6h0M211.8 176.8h0M207.5 175.6h0M211.0 175.3h0M212.6 170.1h0M212.0 177.1h0M207.9 178.5h0M204.5 173.4h0M210.1 178.2h0M206.7 179.9h0M209.5 170.5h0M204.2 170.8h0M208.7 173.2h0M205.6 174.5h0M203.8 179.1h0M211.4 175.6h0M207.4 173.1h0M209.0 173.5h0M212.8 179.6h0M210.3 178.3h0M203.8 171.2h0M206.5 171.3h0M207.2 179.9h0M211.3 179.6h0M205.2 172.2h0M203.2 172.7h0M218.3 173.0h0M219.7 175.6h0M219.0 173.0h0M220.3 176.9h0M220.1 174.7h0M217.6 172.9h0M213.4 174.7h0M219.2 171.9h0M221.6 178.8h0M221.5 178.2h0M217.9 171.8h0M215.7 177.4h0M222.8 171.1h0M213.1 173.5h0M216.5 176.0h0M214.1 178.4h0M216.4 179.1h0M216.3 173.1h0M214.8 179.7h0M218.9 178.3h0M213.6 175.4h0M220.3 179.8h0M222.4 171.0h0M216.7 180.0h0M218.3 179.6h0M215.5 170.3h0M222.5 172.6h0M218.6 173.6h0M218.8 179.3h0M222.5 178.8h0M215.6 178.2h0M213.2 174.2h0M222.4 172.5h0M216.7 175.8h0M215.4 177.1h0M219.5 171.0h0M222.2 170.7h0M220.0 173.5h0M214.4 170.8h0M223.0 178.0h0M217.6 177.9h0M222.7 179.3h0M218.3 172.7h0M218.2 179.8h0M220.3 176.7h0M221.4 174.1h0M218.6 178.5h0M215.0 178.6h0M213.2 175.4h0M218.7 171.5h0M222.2 174.4h0M214.9 174.1h0M218.9 174.3h0M213.0 170.9h0M220.1 171.3h0M215.6 178.1h0M221.6 178.8h0M214.7 170.1h0M220.5 176.0h0M216.6 170.2h0M217.3 172.4h0M218.9 179.8h0M215.1 170.8h0M219.9 171.1h0M215.2 174.4h0M222.9 173.2h0M227.8 171.6h0M227.0 177.0h0M226.2 178.0h0M224.8 171.0h0M229.3 174.5h0M232.2 171.1h0M230.5 176.7h0M226.7 171.3h0M229.1 177.6h0M227.7 174.7h0M229.9 176.1h0M227.2 171.9h0M227.6 175.5h0M232.0 179.9h0M228.6 173.3h0M225.2 176.3h0M230.4 172.5h0M229.9 180.0h0M226.9 179.4h0M227.4 176.5h0M231.7 172.0h0M226.5 179.8h0M223.7 173.1h0M227.8 177.4h0M229.3 179.3h0M229.7 170.0h0M223.7 170.4h0M227.3 170.3h0M228.3 176.3h0M225.0 178.6h0M227.1 179.6h0M226.6 176.2h0M228.4 172.6h0M230.8 170.0h0M225.5 173.2h0M231.8 175.0h0M223.4 173.0h0M229.1 178.1h0M224.1 177.8h0M226.9 175.2h0M227.2 174.4h0M232.9 179.2h0M232.2 177.4h0M230.0 171.4h0M223.4 178.3h0M239.3 173.1h0M235.7 179.2h0M123.2 183.4h0M126.5 180.7h0M132.8 189.0h0M131.1 180.0h0M127.2 181.1h0M130.3 188.1h0M130.9 187.9h0M124.2 180.1h0M123.9 188.4h0M131.3 185.2h0M125.3 188.6h0M124.2 183.2h0M123.0 189.8h0M127.2 187.7h0M138.8 189.9h0M140.7 189.3h0M142.6 180.8h0M140.5 182.3h0M136.2 183.4h0M142.9 180.6h0M137.3 181.3h0M143.0 185.0h0M140.0 185.2h0M140.7 183.4h0M137.1 187.4h0M140.0 188.9h0M136.1 188.5h0M140.4 185.7h0M137.1 185.7h0M133.8 181.0h0M136.1 181.2h0M133.5 187.2h0M149.2 182.1h0M150.2 188.3h0M149.2 182.3h0M148.6 183.9h0M145.7 181.5h0M151.6 186.3h0M152.3 181.7h0M145.6 185.1h0M143.6 183.0h0M148.4 184.8h0M152.1 185.8h0M149.4 185.9h0M150.9 183.7h0M143.0 189.8h0M150.9 181.3h0M144.1 182.2h0M149.6 181.3h0M143.2 184.9h0M143.1 182.6h0M146.8 182.1h0M143.0 182.6h0M145.4 183.2h0M147.1 183.6h0M146.2 180.2h0M151.4 187.4h0M147.9 180.0h0M145.3 189.0h0M147.6 182.1h0M151.2 188.9h0M144.2 185.0h0M148.6 181.2h0M146.2 186.2h0M149.7 186.3h0M156.8 180.7h0M153.2 188.4h0M161.6 189.1h0M153.8 187.7h0M154.7 183.5h0M155.0 188.6h0M161.2 188.3h0M156.8 189.4h0M155.6 185.7h0M159.7 182.3h0M156.8 181.0h0M161.0 181.8h0M154.4 182.8h0M159.4 186.4h0M158.2 188.5h0M160.5 182.1h0M158.3 181.7h0M155.4 181.5h0M153.8 183.5h0M161.9 186.6h0M153.9 182.2h0M158.9 185.3h0M153.3 180.9h0M158.7 186.0h0M153.8 187.7h0M155.4 185.9h0M158.3 183.4h0M162.5 184.0h0M157.2 185.4h0M161.4 189.9h0M160.7 185.4h0M160.2 186.4h0M162.6 189.7h0M160.6 182.2h0M158.7 184.4h0M155.3 187.8h0M155.2 187.1h0M157.9 184.3h0M160.1 187.2h0M162.9 190.0h0M161.0 182.6h0M159.7 185.0h0M162.4 184.5h0M156.6 180.3h0M157.7 185.3h0M164.1 184.8h0M163.7 181.7h0M167.4 183.5h0M168.0 185.3h0M166.9 181.3h0M163.2 185.6h0M172.7 182.8h0M166.5 183.2h0M170.4 184.9h0M171.0 180.1h0M164.3 182.1h0M166.7 184.0h0M166.9 189.7h0M167.4 185.8h0M172.6 186.4h0M168.9 188.3h0M166.3 180.4h0M172.6 185.3h0M168.8 180.7h0M170.5 183.7h0M169.4 182.8h0M172.2 183.7h0M165.8 188.9h0M165.2 182.7h0M167.9 189.8h0M164.2 182.1h0M171.0 180.8h0M167.1 187.8h0M170.1 187.9h0M164.2 188.9h0M166.6 188.1h0M167.7 188.9h0M167.8 182.6h0M164.5 185.0h0M163.5 181.6h0M171.7 185.7h0M171.6 181.5h0M167.8 184.7h0M164.1 182.6h0M172.2 187.2h0M168.1 186.1h0M171.6 189.5h0M168.9 180.5h0M171.7 181.6h0M165.4 181.4h0M178.8 184.6h0M177.7 181.4h0M180.2 185.4h0M176.1 188.3h0M182.4 189.2h0M182.8 180.7h0M176.9 184.5h0M175.6 187.4h0M182.0 181.4h0M178.1 189.7h0M181.9 184.5h0M174.0 184.6h0M178.2 187.9h0M174.9 182.8h0M182.8 180.1h0M179.1 180.9h0M180.5 184.2h0M182.3 182.2h0M181.8 182.3h0M173.5 180.9h0M173.8 183.9h0M182.7 183.5h0M180.2 180.3h0M178.2 185.4h0M174.0 185.8h0M177.5 183.3h0M181.3 186.9h0M174.2 181.1h0M173.5 182.6h0M179.4 189.7h0M182.7 188.6h0M174.2 187.9h0M180.6 184.7h0M183.0 186.0h0M174.2 182.2h0M174.3 186.1h0M179.2 188.6h0M173.1 180.1h0M182.7 182.6h0M175.6 188.7h0M174.1 187.9h0M182.0 185.6h0M179.1 180.1h0M179.1 186.1h0M180.7 185.2h0M174.1 182.2h0M179.5 180.8h0M174.1 182.5h0M181.0 185.5h0M176.6 189.6h0M178.8 182.4h0M178.7 188.6h0M176.7 184.3h0M178.8 189.9h0M179.4 181.8h0M178.8 183.2h0M177.7 187.1h0M173.2 185.1h0M176.1 186.0h0M181.2 184.7h0M179.3 182.9h0M175.6 185.1h0M178.3 182.2h0M180.7 185.0h0M176.6 182.5h0M181.4 189.0h0M185.5 180.7h0M189.3 180.2h0M191.6 186.8h0M186.4 184.4h0M189.8 181.6h0M186.6 187.9h0M189.8 185.9h0M184.0 182.2h0M185.6 180.3h0M189.4 185.7h0M192.2 185.5h0M192.2 184.7h0M188.2 182.8h0M187.6 189.4h0M187.9 180.0h0M186.5 182.0h0M189.2 185.1h0M187.8 189.3h0M190.6 180.9h0M183.3 187.0h0M189.0 186.5h0M188.0 180.4h0M187.5 188.4h0M189.0 180.4h0M184.2 189.0h0M188.4 181.6h0M190.1 189.2h0M191.7 186.5h0M191.1 180.9h0M187.6 188.1h0M186.4 181.4h0M191.7 187.0h0M183.1 180.6h0M188.6 189.5h0M189.2 188.8h0M184.1 185.8h0M184.8 183.3h0M184.5 184.6h0M183.5 186.6h0M189.5 189.0h0M190.7 180.8h0M191.7 185.4h0M192.4 184.9h0M183.8 187.0h0M184.7 189.8h0M188.4 189.0h0M187.9 183.3h0M189.6 187.1h0M187.6 182.8h0M187.2 187.1h0M185.3 181.6h0M187.8 186.6h0M183.7 182.7h0M192.7 182.7h0M190.7 183.1h0M183.9 184.9h0M191.7 187.8h0M183.5 187.0h0M189.2 184.8h0M189.6 185.2h0M184.8 187.0h0M184.3 183.1h0M191.5 185.7h0M188.1 187.1h0M187.9 183.8h0M188.5 180.2h0M186.5 180.4h0M202.1 186.5h0M194.6 188.6h0M195.8 188.0h0M199.5 186.0h0M200.4 182.7h0M201.3 185.4h0M200.6 188.4h0M195.5 184.1h0M196.6 180.8h0M201.8 186.9h0M197.9 185.5h0M201.8 180.7h0M196.6 186.9h0M198.3 185.0h0M195.6 182.2h0M199.7 183.4h0M202.4 189.0h0M202.7 182.8h0M198.1 181.0h0M196.6 180.7h0M198.0 189.6h0M200.6 183.6h0M195.8 189.3h0M193.5 188.5h0M201.6 180.7h0M202.5 186.5h0M196.9 184.3h0M199.1 185.3h0M201.7 189.0h0M196.3 180.1h0M200.8 186.5h0M199.6 180.7h0M193.8 189.0h0M196.6 184.7h0M202.7 182.0h0M199.4 180.6h0M198.6 187.4h0M194.6 187.6h0M202.7 188.3h0M200.9 189.5h0M200.2 185.5h0M201.2 188.1h0M199.3 186.7h0M194.8 183.4h0M196.3 188.6h0M200.8 182.9h0M203.6 180.6h0M206.3 180.8h0M212.5 183.6h0M206.9 188.5h0M208.3 186.3h0M207.4 184.6h0M212.6 182.8h0M208.3 184.8h0M204.4 181.5h0M208.1 188.0h0M207.3 180.6h0M212.4 181.4h0M211.8 180.5h0M209.5 181.5h0M205.6 184.2h0M210.6 184.4h0M207.2 184.0h0M208.2 182.8h0M214.9 181.3h0M218.5 183.5h0M220.2 180.4h0M219.8 183.6h0M222.3 183.0h0M217.3 183.2h0M218.3 182.8h0M219.7 184.1h0M220.1 182.9h0M217.6 185.6h0M220.2 186.5h0M223.9 181.1h0M224.5 181.8h0M129.6 193.4h0M132.1 192.3h0M125.5 191.8h0M124.4 196.8h0M128.8 192.5h0M131.1 196.8h0M127.3 196.1h0M129.6 194.4h0M123.9 193.6h0M132.5 193.7h0M129.4 190.9h0M130.7 198.6h0M126.7 193.7h0M128.1 192.5h0M125.1 191.3h0M129.9 195.1h0M132.6 199.6h0M142.4 198.4h0M133.2 191.3h0M142.8 198.7h0M139.2 196.2h0M137.4 194.2h0M134.5 195.5h0M135.7 191.2h0M141.7 195.7h0M141.8 192.9h0M138.8 192.8h0M141.3 192.1h0M139.5 195.5h0M136.3 190.8h0M137.9 195.2h0M145.0 191.9h0M146.1 198.0h0M145.3 196.3h0M143.3 190.8h0M150.1 195.0h0M144.1 194.7h0M152.4 193.9h0M148.6 194.2h0M148.1 190.4h0M151.8 195.8h0M146.5 192.8h0M144.9 199.3h0M151.4 193.8h0M149.0 195.5h0M145.0 190.3h0M150.4 191.6h0M148.6 190.2h0M143.2 191.6h0M159.1 199.9h0M159.6 195.2h0M153.1 199.6h0M157.9 198.6h0M153.4 198.4h0M157.8 192.2h0M157.1 190.8h0M158.8 192.2h0M160.0 191.7h0M159.9 196.2h0M160.1 199.5h0M156.0 196.8h0M157.0 198.9h0M161.3 197.6h0M159.0 192.6h0M162.1 199.7h0M162.5 193.4h0M161.2 196.8h0M161.4 198.0h0M157.5 194.0h0M161.0 196.5h0M158.4 198.7h0M153.3 190.1h0M157.6 191.0h0M163.9 198.8h0M165.3 191.3h0M170.5 196.8h0M167.1 196.0h0M168.5 199.5h0M168.1 195.4h0M167.6 194.1h0M169.9 191.1h0M169.9 199.3h0M170.6 195.4h0M166.5 191.0h0M163.9 195.4h0M171.8 198.7h0M164.8 197.5h0M171.1 194.8h0M171.6 191.9h0M166.4 195.1h0M170.3 194.5h0M166.0 198.7h0M166.9 194.2h0M165.2 194.8h0M170.1 193.6h0M169.6 194.9h0M163.1 199.6h0M165.9 195.5h0M172.6 192.1h0M163.6 192.1h0M164.5 198.5h0M168.2 190.4h0M165.7 195.1h0M164.7 193.1h0M172.0 194.4h0M165.3 196.0h0M178.2 196.5h0M173.9 195.5h0M176.1 197.4h0M179.2 199.1h0M179.1 191.8h0M174.9 197.0h0M181.1 190.6h0M177.2 192.8h0M177.7 198.7h0M178.6 197.4h0M180.6 192.8h0M179.2 193.8h0M177.7 195.3h0M179.7 191.7h0M181.4 191.6h0M176.1 198.5h0M182.9 193.7h0M182.5 190.4h0M182.6 192.0h0M173.3 197.6h0M174.6 197.5h0M173.1 191.2h0M176.6 190.8h0M186.5 197.4h0M187.9 199.7h0M191.4 191.7h0M192.2 198.9h0M188.6 195.3h0M184.7 193.2h0M185.2 192.0h0M189.1 193.2h0M190.7 195.7h0M191.3 190.9h0M191.5 195.1h0M189.3 192.4h0M190.0 194.1h0M190.2 195.8h0M184.4 193.0h0M190.5 190.2h0M189.3 195.5h0M190.1 193.3h0M187.8 194.8h0M190.5 190.7h0M195.6 195.9h0M195.6 192.1h0M195.3 198.9h0M196.6 198.8h0M200.4 192.7h0M198.5 190.1h0M202.3 196.3h0M194.1 195.2h0M198.0 196.7h0M195.9 199.1h0M199.2 190.7h0M201.2 198.8h0M196.0 197.1h0M201.6 198.8h0M193.7 198.4h0M195.5 198.0h0M199.9 194.7h0M202.0 198.0h0M212.6 195.7h0M210.3 196.7h0M108.0 205.1h0M105.2 202.6h0M111.4 208.5h0M110.0 206.9h0M108.1 205.7h0M109.7 200.1h0M107.4 209.7h0M105.1 204.7h0M103.8 202.5h0M111.2 200.3h0M121.0 208.7h0M115.6 209.3h0M116.7 204.5h0M122.5 205.4h0M119.8 201.1h0M113.0 202.6h0M114.1 208.2h0M115.5 209.6h0M119.8 201.9h0M120.1 203.2h0M118.3 200.8h0M121.3 207.9h0M118.8 206.9h0M116.4 201.3h0M116.3 207.4h0M118.6 201.3h0M115.4 204.8h0M113.1 200.4h0M124.3 208.9h0M124.3 207.5h0M130.9 203.2h0M128.4 209.9h0M129.2 203.9h0M132.8 202.6h0M132.6 203.1h0M127.2 203.2h0M129.5 208.8h0M129.9 201.8h0M132.9 207.2h0M128.1 208.5h0M124.1 206.0h0M130.9 207.8h0M129.7 200.6h0M127.8 202.7h0M129.1 204.0h0M127.6 205.4h0M128.9 208.9h0M125.8 202.7h0M124.8 201.1h0M131.5 209.2h0M124.3 203.6h0M132.0 208.6h0M132.8 209.9h0M126.0 200.7h0M125.5 205.0h0M123.2 202.5h0M127.7 206.8h0M124.5 201.2h0M126.3 200.9h0M124.2 201.0h0M131.0 208.8h0M141.0 208.4h0M139.5 203.0h0M141.2 200.8h0M133.5 209.5h0M135.2 209.2h0M140.5 200.5h0M133.9 206.5h0M134.5 206.7h0M139.7 202.3h0M137.8 202.1h0M141.7 206.3h0M139.9 206.2h0M133.6 208.9h0M140.8 205.1h0M138.9 204.9h0M140.6 205.3h0M135.8 205.2h0M135.1 200.0h0M138.2 208.7h0M140.2 202.1h0M138.1 205.8h0M138.8 204.6h0M138.1 206.9h0M141.8 205.2h0M140.8 206.8h0M134.2 202.6h0M136.1 203.5h0M137.9 202.9h0M143.0 207.3h0M136.7 207.0h0M142.2 201.6h0M139.3 209.6h0M151.8 208.0h0M146.2 201.4h0M151.1 204.2h0M146.5 204.6h0M150.3 208.9h0M152.2 207.7h0M144.8 203.7h0M143.1 202.0h0M146.4 201.8h0M147.8 201.3h0M149.5 204.1h0M145.5 206.9h0M146.3 200.2h0M151.4 207.5h0M151.8 202.9h0M145.6 207.0h0M144.5 209.7h0M149.5 205.5h0M143.5 202.8h0M147.2 209.8h0M144.4 205.9h0M143.8 209.7h0M150.5 208.1h0M150.5 201.8h0M145.4 200.4h0M148.5 200.8h0M144.9 201.7h0M152.2 207.9h0M145.9 209.7h0M144.6 201.4h0M146.8 208.1h0M144.0 207.9h0M148.4 208.0h0M146.4 200.4h0M144.0 207.2h0M148.1 207.6h0M145.0 202.8h0M145.1 208.5h0M150.0 201.5h0M150.3 200.4h0M147.7 202.6h0M150.6 207.2h0M149.8 202.0h0M143.4 206.4h0M149.9 200.1h0M162.0 203.6h0M158.2 206.5h0M162.3 206.5h0M158.2 207.7h0M157.9 200.3h0M158.5 204.1h0M156.4 203.9h0M155.2 203.1h0M160.5 208.9h0M157.6 208.5h0M154.3 205.2h0M160.4 207.8h0M156.9 201.7h0M162.6 206.1h0M159.5 203.5h0M154.1 205.7h0M157.0 208.9h0M159.6 207.6h0M158.7 207.5h0M154.3 210.0h0M158.8 206.0h0M154.9 200.9h0M160.1 207.3h0M159.7 202.5h0M157.9 207.7h0M159.4 209.1h0M153.9 207.7h0M153.1 206.3h0M158.3 200.7h0M157.2 206.7h0M161.7 200.8h0M158.1 208.0h0M154.2 208.9h0M162.4 203.4h0M155.1 201.5h0M155.2 204.2h0M160.1 209.4h0M158.6 209.5h0M157.3 206.6h0M153.0 204.2h0M153.2 201.3h0M161.1 201.1h0M156.0 205.3h0M158.3 200.3h0M154.1 206.8h0M157.0 200.9h0M166.7 210.0h0M163.5 201.8h0M163.7 205.5h0M172.6 207.8h0M164.1 205.4h0M166.6 209.8h0M170.1 206.0h0M165.6 204.4h0M168.3 203.8h0M168.6 200.9h0M167.2 209.9h0M167.0 205.1h0M170.5 208.1h0M170.4 203.8h0M170.1 202.0h0M169.2 200.2h0M164.9 201.8h0M166.5 207.4h0M163.2 208.8h0M163.9 209.5h0M172.5 206.1h0M171.4 209.4h0M167.5 208.6h0M163.3 207.8h0M169.5 207.8h0M164.5 200.8h0M168.2 206.1h0M169.9 201.8h0M168.7 209.7h0M165.5 208.2h0M172.6 206.7h0M167.4 204.2h0M167.7 201.2h0M163.7 202.8h0M164.7 209.0h0M166.6 208.8h0M168.6 209.0h0M172.0 207.1h0M167.5 202.4h0M168.6 203.1h0M171.3 200.4h0M169.4 203.4h0M167.2 205.4h0M172.8 209.9h0M166.6 209.6h0M178.3 205.6h0M175.0 207.9h0M177.9 207.6h0M182.2 206.2h0M180.0 205.5h0M174.3 204.6h0M173.6 201.8h0M182.8 203.8h0M174.4 204.4h0M173.6 206.1h0M175.3 202.2h0M179.4 209.3h0M173.1 207.2h0M178.8 204.9h0M177.2 200.1h0M176.5 205.2h0M176.4 209.9h0M176.4 208.5h0M181.1 207.9h0M177.9 205.0h0M181.4 201.2h0M175.2 200.1h0M177.9 204.5h0M182.6 209.3h0M177.1 205.0h0M174.1 207.5h0M178.2 201.7h0M181.8 200.4h0M174.9 204.8h0M183.0 201.4h0M175.7 207.9h0M176.4 209.3h0M173.2 202.4h0M191.5 201.0h0M189.7 208.9h0M192.7 208.1h0M183.5 204.8h0M185.2 201.2h0M185.4 207.4h0M188.8 201.3h0M185.9 200.7h0M192.3 207.5h0M187.7 209.6h0M192.8 202.1h0M185.5 201.9h0M189.3 205.9h0M188.2 207.7h0M188.3 203.1h0M189.7 209.5h0M183.5 204.9h0M184.4 207.5h0M187.3 208.4h0M189.7 209.6h0M188.8 206.0h0M192.7 208.0h0M186.4 201.0h0M192.2 200.6h0M202.3 206.6h0M202.5 206.1h0M200.5 206.0h0M195.2 200.8h0M200.4 204.5h0M194.2 205.6h0M195.6 202.6h0M109.2 217.5h0M111.2 214.4h0M107.5 214.3h0M106.6 217.8h0M111.8 213.0h0M110.1 212.2h0M103.1 216.9h0M110.8 213.3h0M112.9 217.2h0M106.2 217.6h0M111.4 211.4h0M112.1 214.3h0M105.7 213.8h0M108.3 215.3h0M113.6 216.3h0M120.2 217.0h0M117.0 218.6h0M113.2 211.3h0M113.2 215.5h0M118.2 212.3h0M118.3 210.0h0M113.4 219.6h0M121.9 210.7h0M119.6 215.1h0M118.4 218.4h0M119.4 219.4h0M119.8 219.2h0M114.2 218.2h0M116.2 219.2h0M120.9 219.7h0M120.6 213.9h0M118.2 217.8h0M113.6 215.4h0M118.7 217.2h0M116.4 216.1h0M120.4 213.8h0M119.8 219.0h0M116.7 215.3h0M131.4 212.7h0M125.9 213.9h0M129.5 211.5h0M132.8 215.0h0M130.3 214.1h0M123.3 213.9h0M128.7 210.9h0M132.8 215.9h0M127.6 210.3h0M125.5 213.4h0M129.5 211.7h0M127.9 212.7h0M128.6 216.9h0M128.2 217.5h0M129.2 210.8h0M129.6 214.8h0M130.6 219.4h0M126.5 218.5h0M125.3 216.5h0M123.1 218.2h0M127.5 214.5h0M128.0 213.7h0M125.3 216.9h0M129.3 210.5h0M125.7 219.3h0M125.8 212.9h0M128.8 213.7h0M132.5 219.8h0M124.3 212.2h0M124.7 214.4h0M125.8 216.7h0M131.9 210.7h0M123.3 211.1h0M126.1 211.3h0M127.3 213.6h0M130.3 219.7h0M132.8 214.2h0M129.4 211.3h0M129.1 218.8h0M131.9 211.4h0M124.7 219.0h0M130.0 217.6h0M123.7 216.2h0M123.2 217.4h0M130.9 213.2h0M140.3 220.0h0M139.2 213.7h0M136.3 218.1h0M142.7 213.7h0M135.2 220.0h0M137.3 214.4h0M136.1 217.2h0M142.8 214.7h0M141.6 214.0h0M137.2 218.0h0M142.7 217.6h0M140.0 218.3h0M142.2 219.5h0M138.3 213.9h0M133.1 215.3h0M136.6 210.0h0M142.9 213.1h0M142.3 210.2h0M136.6 217.8h0M139.7 216.7h0M137.9 210.9h0M141.3 217.6h0M137.8 215.6h0M141.0 214.9h0M137.8 214.8h0M140.4 217.4h0M136.3 217.8h0M136.8 216.7h0M136.8 219.0h0M142.4 217.8h0M136.8 213.5h0M137.3 216.0h0M133.3 215.5h0M142.3 210.6h0M141.9 215.7h0M143.0 217.2h0M140.2 217.5h0M137.2 211.2h0M141.5 218.8h0M140.2 212.2h0M138.0 215.1h0M136.6 214.9h0M137.6 219.8h0M139.3 219.8h0M142.1 211.8h0M146.8 216.0h0M148.6 217.4h0M146.0 216.8h0M146.7 217.8h0M147.9 216.4h0M153.0 212.8h0M143.0 219.0h0M148.2 216.5h0M151.3 218.9h0M146.9 219.9h0M146.9 217.3h0M151.3 213.6h0M147.2 213.7h0M146.4 214.1h0M151.5 210.6h0M152.9 217.9h0M148.6 216.4h0M146.0 217.6h0M151.7 213.8h0M148.0 212.2h0M145.5 218.5h0M149.4 214.5h0M149.4 211.9h0M143.0 213.6h0M148.8 211.8h0M148.4 213.3h0M145.6 217.4h0M146.6 217.4h0M150.5 213.8h0M143.3 218.4h0M148.5 215.8h0M149.9 215.5h0M152.1 210.1h0M152.7 216.2h0M147.1 219.1h0M152.0 216.0h0M143.1 216.2h0M147.1 215.7h0M151.3 211.3h0M151.4 213.1h0M145.5 210.4h0M144.1 212.7h0M148.3 219.4h0M144.7 212.9h0M146.7 216.4h0M146.5 216.7h0M153.4 215.8h0M160.2 211.3h0M153.5 216.7h0M153.7 219.3h0M159.9 211.6h0M157.1 210.6h0M153.9 213.5h0M161.8 219.1h0M160.5 216.4h0M158.8 215.1h0M159.6 215.0h0M157.0 218.4h0M156.0 214.1h0M159.8 219.6h0M156.4 214.3h0M157.0 212.1h0M156.5 217.9h0M154.9 214.8h0M155.8 215.8h0M160.7 211.2h0M157.9 211.9h0M159.5 216.8h0M155.2 212.3h0M156.0 213.3h0M161.9 218.7h0M160.9 213.9h0M157.6 212.0h0M157.6 219.5h0M153.9 213.9h0M155.0 218.4h0M156.0 214.9h0M153.5 216.9h0M158.1 218.0h0M160.2 217.4h0M155.6 212.5h0M159.0 210.5h0M162.4 217.2h0M157.9 213.6h0M153.8 215.5h0M160.7 211.2h0M154.0 216.9h0M157.7 217.9h0M157.1 219.8h0M161.7 213.2h0M158.4 215.9h0M171.2 217.1h0M171.2 212.5h0M168.0 215.4h0M168.8 210.2h0M171.1 214.5h0M164.6 218.5h0M168.6 217.4h0M170.4 216.2h0M172.1 210.6h0M166.3 211.6h0M169.4 212.2h0M163.3 211.4h0M164.7 215.4h0M167.6 214.6h0M163.1 215.3h0M165.5 210.9h0M163.6 211.5h0M167.0 211.7h0M167.6 211.6h0M170.4 218.8h0M166.2 210.7h0M172.7 210.8h0M169.5 217.6h0M167.8 218.9h0M164.5 217.2h0M172.1 219.0h0M171.5 214.4h0M168.1 218.5h0M166.8 212.6h0M163.3 212.0h0M164.4 219.3h0M166.1 213.5h0M172.7 216.9h0M174.1 213.7h0M175.9 219.5h0M177.2 219.7h0M175.7 210.5h0M182.0 210.8h0M180.9 216.0h0M175.8 218.3h0M177.3 219.8h0M178.6 219.4h0M182.3 213.8h0M179.9 217.3h0M179.6 210.2h0M179.9 217.6h0M174.9 211.0h0M173.7 215.4h0M174.1 218.5h0M177.2 220.0h0M180.3 214.3h0M174.8 214.3h0M179.1 218.6h0M181.9 213.2h0M173.2 216.6h0M179.9 216.5h0M181.0 218.1h0M191.2 211.3h0M192.5 216.7h0M183.9 211.7h0M189.4 213.1h0M192.4 212.8h0M187.9 215.0h0M192.4 213.0h0M191.9 217.2h0M188.7 219.5h0M191.8 217.5h0M188.5 210.4h0M185.2 216.5h0M184.2 216.4h0M186.5 213.9h0M191.2 218.4h0M190.5 214.5h0M188.4 219.9h0M192.3 216.1h0M202.0 210.5h0M194.2 216.6h0M195.0 217.5h0M199.9 211.7h0M202.1 220.0h0M112.8 228.0h0M107.7 228.2h0M112.4 227.0h0M103.8 223.7h0M110.0 223.7h0M104.7 224.6h0M104.4 224.7h0M104.0 227.3h0M105.1 229.4h0M104.1 226.3h0M109.4 222.0h0M109.3 225.5h0M109.2 221.9h0M107.8 228.4h0M109.2 222.4h0M106.3 228.8h0M117.8 225.1h0M117.3 220.0h0M114.1 228.4h0M117.6 222.9h0M117.5 220.5h0M113.8 228.3h0M120.6 222.0h0M116.2 220.8h0M116.2 225.2h0M120.5 225.1h0M121.5 230.0h0M118.7 220.4h0M114.3 226.7h0M114.3 229.0h0M113.5 220.6h0M123.0 224.1h0M118.6 226.0h0M114.2 223.4h0M116.7 227.4h0M120.8 226.9h0M114.8 224.6h0M122.2 221.7h0M116.5 226.2h0M123.3 226.9h0M127.6 225.3h0M131.4 221.0h0M129.0 223.2h0M130.6 227.1h0M127.2 221.5h0M130.6 227.0h0M128.6 227.5h0M132.5 222.4h0M129.9 228.1h0M125.7 229.0h0M126.1 229.6h0M128.8 229.7h0M131.8 227.8h0M126.7 224.6h0M128.9 228.1h0M127.2 229.0h0M125.2 225.2h0M124.5 221.7h0M125.9 220.5h0M128.7 226.2h0M127.0 228.0h0M128.5 226.8h0M123.9 223.3h0M123.2 221.6h0M131.5 221.4h0M129.0 223.8h0M129.7 228.7h0M131.3 229.6h0M132.7 224.0h0M132.9 227.6h0M125.8 223.3h0M128.2 228.5h0M124.0 228.9h0M129.7 225.9h0M127.1 223.8h0M127.1 227.2h0M127.4 227.1h0M131.8 220.9h0M123.2 229.4h0M124.9 228.1h0M127.0 222.2h0M123.1 224.3h0M129.0 220.5h0M123.1 222.9h0M131.8 227.5h0M137.0 224.2h0M140.1 222.8h0M136.6 225.0h0M135.4 224.3h0M140.5 225.0h0M133.6 223.5h0M138.7 222.3h0M136.9 225.6h0M136.6 221.8h0M141.7 220.7h0M142.1 220.9h0M138.5 225.5h0M137.1 226.3h0M141.8 223.2h0M133.6 222.0h0M141.8 226.0h0M140.5 223.9h0M136.2 226.9h0M138.7 229.1h0M134.6 223.4h0M139.9 229.1h0M137.7 227.9h0M134.1 226.4h0M136.3 226.9h0M136.0 221.9h0M135.7 227.2h0M140.1 229.1h0M137.1 220.7h0M141.1 222.6h0M140.2 224.9h0M137.4 220.3h0M135.3 227.5h0M137.6 228.8h0M141.1 225.3h0M142.8 220.0h0M137.0 225.3h0M133.5 228.7h0M134.5 225.8h0M135.7 223.8h0M137.7 222.9h0M134.7 226.7h0M139.3 220.8h0M142.7 221.1h0M135.2 222.8h0M136.6 224.9h0M144.0 225.7h0M149.2 222.6h0M146.6 224.4h0M151.9 227.8h0M147.8 220.7h0M146.6 228.2h0M147.3 223.9h0M149.4 220.4h0M149.5 226.9h0M144.1 224.2h0M151.6 222.6h0M148.3 223.5h0M148.5 223.9h0M146.4 229.2h0M149.9 230.0h0M146.3 224.7h0M146.7 228.7h0M146.7 226.8h0M144.8 225.4h0M145.7 229.1h0M146.7 229.5h0M148.7 223.4h0M148.5 229.3h0M149.9 228.2h0M148.7 226.2h0M144.4 228.3h0M149.4 226.5h0M146.0 227.6h0M148.3 223.2h0M152.9 227.7h0M149.8 228.4h0M150.0 223.8h0M152.6 229.1h0M149.7 224.3h0M148.0 220.5h0M151.9 228.3h0M148.9 224.7h0M151.0 220.2h0M147.0 222.5h0M149.1 223.5h0M149.1 229.0h0M147.1 221.1h0M143.1 228.4h0M147.7 224.4h0M143.3 221.0h0M143.0 229.0h0M156.2 224.7h0M158.7 222.2h0M159.5 226.4h0M162.8 220.9h0M156.0 221.0h0M155.9 222.1h0M153.3 228.1h0M155.8 227.4h0M161.1 228.0h0M153.2 225.9h0M161.5 226.3h0M159.0 224.3h0M161.2 225.3h0M156.5 225.0h0M157.7 221.9h0M159.7 228.3h0M159.5 220.1h0M157.1 227.7h0M154.3 225.1h0M159.8 225.3h0M156.3 220.2h0M160.0 221.7h0M159.0 225.2h0M160.2 221.1h0M162.7 227.5h0M161.7 221.8h0M160.2 223.8h0M160.0 227.0h0M157.1 229.5h0M157.4 224.7h0M160.2 221.5h0M162.0 223.3h0M161.9 221.5h0M154.2 225.9h0M155.4 224.4h0M155.0 227.2h0M160.4 226.9h0M154.3 220.5h0M158.8 220.8h0M160.2 225.5h0M162.3 228.2h0M159.6 228.3h0M158.1 222.9h0M153.6 227.0h0M159.7 226.3h0M167.6 229.2h0M166.8 221.4h0M172.5 227.6h0M172.0 229.9h0M167.4 221.6h0M167.9 224.9h0M166.9 227.9h0M165.5 229.7h0M165.1 222.8h0M171.3 222.3h0M170.2 222.7h0M167.1 224.7h0M165.5 228.2h0M172.4 229.2h0M164.6 220.3h0M167.4 227.4h0M168.5 229.6h0M172.9 226.8h0M165.6 224.0h0M163.7 223.9h0M170.5 223.2h0M164.9 225.4h0M172.0 226.5h0M164.1 224.3h0M165.3 228.1h0M167.2 224.4h0M171.8 223.0h0M167.5 229.8h0M166.1 225.4h0M169.5 223.3h0M169.3 224.2h0M171.3 225.6h0M170.3 225.7h0M170.0 223.9h0M164.5 223.6h0M166.3 220.1h0M170.7 225.2h0M167.8 227.0h0M163.7 221.3h0M170.2 220.4h0M171.7 225.1h0M172.7 228.6h0M167.1 223.4h0M167.3 227.7h0M167.6 227.2h0M180.5 225.1h0M180.4 224.9h0M178.8 224.2h0M182.4 229.9h0M178.7 225.6h0M174.0 225.7h0M182.3 222.4h0M180.7 222.5h0M180.1 222.8h0M179.0 227.8h0M173.3 228.4h0M178.2 222.4h0M176.1 225.5h0M180.4 221.8h0M173.7 222.3h0M179.3 224.0h0M180.6 227.3h0M176.7 225.9h0M174.5 226.1h0M179.5 222.4h0M179.7 221.4h0M188.5 229.2h0M189.7 222.1h0M190.3 226.1h0M186.8 226.9h0M190.6 226.8h0M185.2 229.7h0M192.1 224.3h0M192.3 229.9h0M186.4 221.9h0M185.4 224.9h0M184.4 222.4h0M190.3 220.2h0M197.1 227.1h0M195.6 224.8h0M195.1 220.2h0M106.7 233.0h0M112.3 233.7h0M108.4 231.4h0M107.1 238.8h0M111.2 238.2h0M112.1 232.3h0M114.3 236.5h0M118.5 233.7h0M120.1 232.2h0M119.1 234.2h0M114.4 237.8h0M114.8 238.0h0M120.6 234.4h0M117.5 232.1h0M114.4 237.0h0M116.7 235.6h0M125.7 231.6h0M130.6 234.3h0M124.5 238.7h0M124.5 232.3h0M124.6 235.6h0M130.8 230.3h0M132.2 237.0h0M131.3 234.2h0M127.4 230.9h0M125.6 238.7h0M125.9 239.0h0M131.3 239.2h0M124.4 234.2h0M131.3 233.1h0M125.4 230.2h0M128.3 235.5h0M125.1 232.6h0M129.3 231.7h0M130.9 238.7h0M127.2 231.3h0M128.7 233.0h0M124.1 237.1h0M128.6 232.7h0M125.5 237.2h0M136.5 235.9h0M135.2 234.7h0M138.8 233.1h0M139.0 235.4h0M133.4 231.2h0M137.1 231.5h0M138.5 235.9h0M139.3 238.9h0M139.1 237.7h0M134.2 238.7h0M142.3 235.9h0M141.3 235.5h0M137.3 231.6h0M137.8 237.1h0M140.9 238.9h0M138.2 239.4h0M136.7 230.2h0M137.3 235.4h0M140.7 232.3h0M133.3 237.2h0M134.9 238.5h0M138.7 231.4h0M138.2 237.7h0M135.2 239.6h0M133.6 231.5h0M138.9 236.8h0M139.0 239.2h0M135.0 230.5h0M138.4 233.5h0M137.0 234.0h0M141.8 232.9h0M139.9 235.7h0M135.8 239.1h0M135.6 233.0h0M134.9 237.0h0M139.9 233.7h0M134.2 236.0h0M136.4 235.5h0M139.6 230.0h0M133.5 238.2h0M141.7 230.9h0M135.2 234.3h0M141.3 233.1h0M142.6 230.9h0M142.1 230.6h0M139.0 239.7h0M152.1 233.5h0M152.6 239.0h0M145.7 237.7h0M152.2 232.1h0M146.9 237.7h0M148.7 239.2h0M147.3 234.5h0M144.7 232.7h0M151.7 232.6h0M152.0 238.0h0M148.7 233.0h0M143.0 231.2h0M151.3 239.6h0M152.6 232.8h0M152.4 234.4h0M146.7 239.1h0M151.2 236.8h0M145.9 231.1h0M144.8 232.6h0M144.9 235.7h0M146.1 232.2h0M151.8 233.7h0M143.0 230.1h0M148.5 230.3h0M148.6 230.3h0M147.7 236.2h0M148.4 232.2h0M151.4 239.7h0M151.1 239.3h0M152.7 233.7h0M148.4 234.1h0M150.9 231.7h0M145.3 234.5h0M148.4 239.9h0M146.4 230.0h0M146.9 238.8h0M144.0 235.2h0M149.0 238.4h0M146.3 236.1h0M152.5 239.7h0M148.6 233.4h0M149.5 237.3h0M149.8 236.8h0M146.8 237.2h0M146.5 232.3h0M158.5 231.7h0M155.8 233.0h0M156.7 234.2h0M162.7 235.3h0M158.5 234.0h0M158.5 238.1h0M158.2 235.1h0M156.5 231.9h0M155.1 230.9h0M155.8 230.4h0M157.2 235.7h0M154.1 237.6h0M157.5 236.2h0M157.3 237.9h0M159.8 231.2h0M158.5 232.6h0M160.5 233.7h0M155.2 230.3h0M162.9 231.2h0M155.5 239.3h0M153.5 234.1h0M157.3 236.8h0M160.8 239.7h0M156.2 230.8h0M155.2 230.0h0M155.7 236.2h0M161.9 231.0h0M155.7 238.9h0M158.9 234.0h0M153.7 230.6h0M155.2 236.2h0M153.6 235.0h0M161.2 230.0h0M155.9 234.1h0M159.1 237.4h0M159.8 234.3h0M156.4 236.3h0M157.6 239.3h0M158.3 235.9h0M159.7 234.8h0M157.9 236.6h0M159.0 240.0h0M156.1 234.9h0M162.7 238.1h0M158.5 233.0h0M167.2 234.3h0M167.3 232.6h0M167.8 235.7h0M164.0 236.6h0M170.1 232.0h0M165.5 230.4h0M167.7 236.8h0M167.1 235.9h0M169.1 230.4h0M163.5 235.1h0M172.2 237.1h0M167.5 232.6h0M164.3 236.5h0M170.6 233.9h0M163.9 232.8h0M170.1 237.7h0M167.0 238.9h0M166.9 230.2h0M165.0 238.9h0M170.1 230.9h0M165.9 233.9h0M167.8 230.3h0M172.2 235.3h0M165.6 230.3h0M168.7 239.3h0M170.2 238.6h0M171.7 236.7h0M163.6 233.1h0M168.8 234.2h0M165.2 230.7h0M171.7 236.7h0M166.0 234.7h0M171.7 231.4h0M169.3 232.3h0M172.0 238.0h0M172.5 233.8h0M168.1 233.2h0M166.5 239.5h0M172.7 239.9h0M172.1 234.9h0M169.6 239.1h0M167.3 239.2h0M171.0 232.8h0M166.6 236.9h0M164.6 232.6h0M174.1 239.1h0M183.0 238.2h0M178.0 237.5h0M179.9 234.4h0M178.2 231.3h0M175.4 233.4h0M176.6 236.6h0M175.4 232.4h0M181.7 237.8h0M182.3 237.8h0M175.0 234.9h0M181.3 238.1h0M175.3 234.8h0M178.9 230.1h0M175.4 237.4h0M179.7 234.5h0M178.7 235.3h0M176.5 230.9h0M180.4 237.7h0M177.3 237.7h0M181.3 236.9h0M181.1 239.7h0M173.4 239.4h0M177.5 237.8h0M180.4 231.0h0M178.9 230.9h0M180.3 233.4h0M176.8 232.7h0M181.1 236.4h0M176.0 237.4h0M174.9 238.0h0M179.0 237.7h0M179.2 239.9h0M180.0 234.6h0M178.9 235.7h0M175.9 233.1h0M181.0 238.2h0M182.7 236.9h0M178.0 233.9h0M180.1 236.5h0M182.4 237.5h0M176.8 232.8h0M173.4 237.8h0M177.3 233.9h0M173.5 235.0h0M185.8 237.4h0M190.6 236.6h0M189.0 232.5h0M189.7 235.8h0M192.7 235.2h0M186.5 239.1h0M189.2 233.4h0M189.5 231.5h0M184.9 238.8h0M187.6 238.0h0M185.1 234.7h0M185.4 238.0h0M189.0 233.9h0M186.8 232.1h0M185.1 236.9h0M186.1 231.0h0M186.9 234.5h0M192.9 233.9h0M187.0 239.7h0M190.2 234.6h0M187.0 232.3h0M184.5 234.7h0M189.4 231.1h0M187.8 231.7h0M189.0 233.4h0M189.7 237.8h0M187.0 233.8h0M183.8 232.1h0M189.2 238.1h0M184.4 239.8h0M192.1 233.7h0M188.4 236.7h0M186.3 233.7h0M190.2 234.8h0M187.4 235.6h0M184.2 234.7h0M185.9 231.7h0M188.2 237.0h0M188.3 235.0h0M189.7 234.2h0M192.8 232.1h0M183.1 235.7h0M190.0 233.8h0M187.0 233.4h0M185.4 237.9h0M191.6 232.8h0M197.6 231.3h0M200.3 235.3h0M202.9 239.1h0M202.0 232.6h0M194.1 238.1h0M194.1 236.9h0M194.8 237.1h0M193.5 230.9h0M108.2 244.5h0M120.8 242.3h0M120.1 243.9h0M117.6 243.1h0M115.3 243.0h0M115.7 241.9h0M121.7 243.8h0M131.1 246.8h0M124.6 249.5h0M132.3 248.4h0M126.3 248.3h0M129.4 240.3h0M126.8 247.0h0M128.4 249.5h0M130.9 248.4h0M132.8 243.4h0M132.1 240.0h0M131.0 240.9h0M128.0 244.4h0M139.4 247.9h0M135.2 242.5h0M140.7 245.3h0M133.2 243.1h0M142.4 242.8h0M135.9 244.5h0M141.9 248.1h0M136.9 246.7h0M133.3 240.6h0M136.7 246.3h0M134.4 240.4h0M141.5 241.9h0M133.5 240.9h0M133.8 242.9h0M138.8 246.6h0M135.9 245.2h0M136.3 245.8h0M134.1 246.2h0M133.0 249.2h0M135.1 245.5h0M134.9 244.4h0M135.6 246.4h0M140.8 248.4h0M142.7 244.6h0M138.5 243.5h0M135.9 245.1h0M142.7 240.6h0M140.5 243.2h0M139.0 242.7h0M140.2 245.0h0M136.1 244.5h0M133.0 241.0h0M143.8 244.0h0M149.7 240.4h0M152.3 242.1h0M152.6 244.3h0M148.9 246.0h0M143.9 245.1h0M150.5 247.9h0M150.3 246.8h0M144.3 244.1h0M148.1 240.4h0M150.7 241.0h0M148.6 242.7h0M144.6 249.5h0M149.2 247.3h0M149.1 245.6h0M151.7 240.6h0M146.8 242.2h0M149.0 243.9h0M152.2 242.3h0M145.7 249.2h0M150.2 244.3h0M146.7 247.3h0M144.5 247.2h0M145.3 248.1h0M143.7 249.1h0M151.6 240.2h0M144.6 249.1h0M151.2 242.9h0M151.0 245.8h0M145.5 246.9h0M147.1 241.4h0M151.5 247.2h0M145.4 244.3h0M149.8 243.7h0M145.6 245.3h0M152.5 241.0h0M145.5 244.8h0M152.8 249.9h0M143.1 246.4h0M144.4 242.1h0M144.4 245.0h0M152.9 249.7h0M146.7 249.0h0M149.9 240.7h0M152.0 242.7h0M152.8 241.3h0M158.1 245.2h0M154.8 244.9h0M160.6 245.6h0M162.8 245.3h0M162.0 241.3h0M160.4 246.0h0M161.8 243.4h0M157.6 248.1h0M155.6 243.7h0M161.5 246.5h0M157.9 240.2h0M160.6 244.1h0M155.4 243.9h0M154.4 248.4h0M161.0 249.7h0M159.7 241.6h0M157.2 250.0h0M153.0 243.4h0M154.5 241.7h0M155.8 246.2h0M153.7 248.7h0M157.3 241.7h0M154.0 245.2h0M156.5 245.0h0M154.1 243.6h0M158.1 240.8h0M158.0 248.4h0M158.9 241.3h0M159.3 240.8h0M154.4 240.1h0M158.3 241.8h0M155.8 241.2h0M162.0 241.5h0M159.7 248.1h0M157.5 245.8h0M156.3 248.2h0M159.9 240.8h0M160.0 241.4h0M157.8 241.8h0M157.8 246.6h0M160.3 243.3h0M153.5 244.5h0M162.1 245.5h0M159.2 247.7h0M159.4 249.5h0M162.5 247.4h0M161.1 241.4h0M155.6 247.1h0M158.8 248.6h0M160.7 243.3h0M154.7 246.6h0M154.1 244.9h0M155.8 244.0h0M159.5 246.3h0M159.2 240.6h0M161.9 247.0h0M162.1 246.1h0M159.5 248.9h0M160.5 246.3h0M153.4 240.2h0M160.2 248.5h0M156.9 242.1h0M157.4 248.4h0M160.6 241.3h0M155.0 242.1h0M160.5 242.5h0M161.9 244.1h0M167.2 241.4h0M171.8 240.2h0M167.2 243.8h0M163.4 242.2h0M172.9 248.6h0M167.2 248.7h0M172.1 248.6h0M170.3 245.7h0M168.1 247.2h0M169.0 249.7h0M164.8 249.0h0M170.6 244.4h0M171.5 242.9h0M166.9 245.8h0M172.7 242.4h0M171.5 246.6h0M172.2 243.0h0M169.6 248.9h0M171.8 247.0h0M171.4 246.3h0M168.5 241.9h0M168.2 249.8h0M172.5 240.4h0M166.0 242.4h0M171.4 241.8h0M170.7 242.0h0M166.4 249.7h0M164.3 245.8h0M165.7 247.6h0M163.7 246.8h0M165.6 249.6h0M166.3 246.7h0M163.3 249.4h0M169.3 249.1h0M170.4 240.6h0M170.4 243.8h0M165.0 248.9h0M169.6 243.5h0M163.7 246.5h0M163.6 242.4h0M163.5 241.7h0M170.5 242.7h0M172.9 242.8h0M171.0 247.4h0M169.4 246.0h0M164.4 248.3h0M172.2 245.3h0M164.9 240.9h0M165.6 249.7h0M166.2 242.8h0M168.3 240.3h0M170.9 247.8h0M166.1 240.3h0M172.0 248.1h0M170.6 242.1h0M172.5 246.4h0M163.3 249.8h0M170.0 241.8h0M171.9 246.0h0M169.4 240.3h0M165.1 247.9h0M163.1 241.9h0M163.7 245.8h0M164.4 247.8h0M167.5 247.8h0M172.1 249.7h0M176.6 247.9h0M176.3 249.4h0M176.4 246.3h0M175.6 247.2h0M175.8 244.2h0M180.2 248.3h0M174.4 241.7h0M175.1 247.7h0M179.7 247.2h0M181.1 242.3h0M178.0 240.0h0M176.5 246.0h0M175.6 247.9h0M175.1 244.4h0M179.8 242.2h0M179.6 244.0h0M173.5 241.1h0M179.5 248.2h0M179.8 248.6h0M179.7 247.8h0M181.4 246.0h0M178.3 241.6h0M175.4 240.9h0M174.1 243.9h0M175.9 245.6h0M181.3 242.7h0M181.9 248.3h0M174.9 245.9h0M175.0 240.6h0M175.2 242.0h0M173.1 240.3h0M181.1 248.7h0M181.6 240.7h0M173.2 248.6h0M176.7 243.5h0M180.0 245.3h0M176.3 241.5h0M174.1 247.1h0M182.1 240.4h0M175.2 245.2h0M175.7 244.9h0M178.0 242.6h0M174.2 244.2h0M181.1 241.4h0M178.4 248.1h0M178.7 243.5h0M182.3 247.8h0M183.0 243.0h0M177.8 244.5h0M181.4 246.2h0M178.5 245.1h0M181.9 243.5h0M184.8 242.4h0M184.0 249.8h0M188.6 248.0h0M187.5 245.2h0M185.3 248.9h0M187.2 244.1h0M190.4 248.7h0M193.0 244.8h0M187.2 248.3h0M187.2 242.0h0M187.8 243.1h0M185.6 247.7h0M186.5 246.3h0M186.0 241.1h0M190.8 247.7h0M190.0 246.1h0M184.7 245.0h0M191.3 247.8h0M188.9 246.3h0M184.7 240.6h0M191.5 240.2h0M185.5 244.0h0M190.0 247.0h0M191.7 249.3h0M185.7 242.5h0M184.2 243.3h0M184.0 249.6h0M188.7 244.9h0M183.6 249.1h0M185.4 247.7h0M185.0 242.7h0M184.4 245.3h0M185.8 245.7h0M190.2 242.3h0M184.3 245.2h0M187.0 244.5h0M186.7 241.6h0M184.2 247.3h0M189.3 246.9h0M189.4 245.1h0M185.0 249.1h0M188.3 244.6h0M185.6 243.8h0M192.8 244.1h0M191.0 241.2h0M195.7 242.3h0M196.0 244.0h0M199.4 244.1h0M201.6 241.6h0M201.6 244.4h0M200.9 243.9h0M195.6 248.9h0M199.4 247.2h0M198.2 247.1h0M202.6 247.4h0M202.7 243.5h0M196.0 248.8h0M131.9 254.4h0M127.1 259.5h0M125.0 251.7h0M124.7 253.0h0M127.2 253.8h0M127.6 250.4h0M126.4 255.1h0M123.5 254.8h0M132.1 256.5h0M141.6 254.9h0M133.2 250.6h0M138.8 258.4h0M136.3 251.3h0M140.6 255.4h0M137.7 251.3h0M138.5 255.7h0M140.1 259.0h0M133.8 258.3h0M136.2 254.2h0M136.4 258.1h0M137.4 250.7h0M137.7 251.5h0M133.2 250.5h0M136.8 254.5h0M133.0 251.4h0M142.0 255.4h0M142.8 255.4h0M149.9 253.9h0M143.5 251.5h0M150.9 256.6h0M146.0 251.6h0M149.4 259.3h0M145.5 260.0h0M148.3 252.1h0M144.8 257.1h0M152.3 252.0h0M145.4 251.4h0M145.1 252.3h0M147.2 252.4h0M149.6 252.4h0M145.7 254.2h0M144.7 250.5h0M143.9 250.0h0M149.7 250.5h0M147.8 258.9h0M156.1 254.0h0M157.3 253.2h0M153.5 251.6h0M154.4 252.1h0M156.3 251.0h0M159.2 252.0h0M158.1 256.9h0M158.0 257.4h0M160.8 254.5h0M155.1 250.4h0M159.9 253.7h0M155.9 250.8h0M154.8 258.9h0M157.7 258.5h0M161.4 252.5h0M155.3 258.9h0M155.4 256.0h0M162.4 254.7h0M157.2 259.6h0M161.6 259.3h0M160.1 252.2h0M153.5 250.2h0M162.2 255.4h0M161.8 259.6h0M155.4 259.7h0M155.7 251.8h0M155.7 260.0h0M162.4 253.5h0M157.8 258.2h0M161.0 259.0h0M156.6 252.3h0M158.1 259.3h0M159.1 258.7h0M168.1 259.2h0M168.7 257.9h0M171.1 254.4h0M169.9 256.9h0M167.4 255.2h0M171.1 258.8h0M172.9 253.7h0M169.8 255.5h0M171.5 252.4h0M167.7 252.6h0M171.0 257.1h0M163.1 251.1h0M164.4 255.9h0M170.8 253.4h0M163.8 255.9h0M169.1 254.3h0M165.7 253.5h0M165.3 258.1h0M166.8 257.1h0M168.5 252.3h0M165.8 256.7h0M171.6 259.2h0M164.5 252.6h0M164.0 251.9h0M166.9 257.2h0M172.2 255.9h0M164.5 253.8h0M164.4 252.8h0M168.7 255.0h0M164.7 252.8h0M172.0 256.3h0M169.0 253.2h0M166.0 257.6h0M163.2 256.5h0M172.6 256.4h0M163.5 250.3h0M170.8 251.9h0M167.2 256.5h0M169.8 252.9h0M169.8 259.1h0M167.7 254.0h0M169.9 258.7h0M169.9 259.3h0M170.8 259.6h0M165.5 256.7h0M174.2 253.4h0M182.5 252.9h0M176.1 259.3h0M182.8 257.6h0M176.5 258.2h0M173.7 250.1h0M173.6 253.3h0M175.4 258.6h0M177.5 258.5h0M177.9 253.7h0M176.4 250.5h0M177.5 259.5h0M182.7 259.3h0M174.0 254.4h0M181.3 251.5h0M173.7 252.1h0M173.8 257.4h0M180.1 259.9h0M173.5 257.0h0M180.9 251.8h0M173.8 259.8h0M180.9 250.7h0M174.9 256.6h0M174.7 254.4h0M174.5 250.9h0M177.8 255.4h0M181.5 250.0h0M176.5 250.7h0M178.5 251.7h0M176.3 259.7h0M179.5 256.7h0M179.1 252.0h0M179.8 259.7h0M173.9 258.4h0M176.4 252.0h0M179.6 258.5h0M174.7 252.0h0M178.0 252.0h0M178.1 259.9h0M173.3 254.3h0M175.0 251.7h0M178.9 259.5h0M177.7 255.6h0M180.0 258.6h0M182.7 253.3h0M192.2 256.1h0M191.8 251.5h0M190.9 251.2h0M184.3 251.2h0M186.6 254.2h0M189.6 259.4h0M187.3 255.8h0M187.1 253.8h0M185.6 250.1h0M185.6 257.2h0M191.0 256.9h0M187.4 254.1h0M184.9 252.4h0M193.0 255.9h0M187.0 255.4h0M187.9 252.9h0M187.2 254.3h0M192.0 258.9h0M185.9 254.6h0M185.2 259.5h0M184.4 254.8h0M183.1 254.6h0M187.6 250.1h0M184.5 255.0h0M187.7 253.0h0M183.5 253.2h0M186.5 251.0h0M189.0 252.2h0M188.3 257.1h0M183.1 255.0h0M189.4 258.9h0M189.9 258.4h0M189.6 252.2h0M191.1 257.6h0M187.9 259.3h0M183.5 259.1h0M186.6 255.4h0M191.0 251.7h0M188.0 250.2h0M202.6 252.2h0M197.3 251.2h0M202.3 255.1h0M201.6 252.7h0M197.6 252.5h0M198.9 257.1h0M198.7 255.8h0M196.1 259.5h0M193.2 251.7h0M199.7 259.7h0M201.5 252.5h0M202.4 254.6h0M198.7 256.5h0M199.2 258.8h0M202.0 253.2h0M201.9 253.2h0M199.8 251.6h0M199.4 253.0h0M202.9 256.6h0M196.9 259.6h0M194.2 257.5h0M199.5 250.2h0M197.6 251.2h0M124.0 266.4h0M128.4 261.3h0M132.3 265.7h0M129.2 262.6h0M124.5 263.3h0M135.0 265.0h0M136.9 267.6h0M134.4 262.1h0M138.2 266.9h0M136.1 262.1h0M134.3 263.6h0M136.8 268.0h0M135.4 263.4h0M140.5 262.1h0M133.4 269.7h0M146.2 262.8h0M147.6 262.1h0M150.9 268.9h0M150.1 264.0h0M151.4 269.4h0M144.8 266.7h0M144.7 269.9h0M151.0 264.1h0M150.4 262.9h0M143.6 265.1h0M143.8 264.6h0M151.5 265.8h0M145.7 262.1h0M148.6 265.1h0M154.7 264.7h0M157.5 263.8h0M154.9 263.8h0M158.4 261.9h0M156.2 265.3h0M162.4 264.8h0M156.5 260.3h0M158.2 263.4h0M154.2 264.7h0M159.2 263.5h0M160.4 266.3h0M153.6 260.5h0M158.3 266.1h0M158.6 262.3h0M170.2 264.0h0M168.3 262.3h0M169.3 264.8h0M163.0 267.5h0M171.0 269.9h0M172.4 267.0h0M167.7 262.7h0M170.0 264.2h0M166.2 261.2h0M169.1 267.1h0M170.7 261.5h0M165.0 266.4h0M164.3 268.9h0M172.3 266.3h0M165.6 265.6h0M170.7 263.4h0M169.5 266.0h0M172.1 267.8h0M169.7 265.4h0M171.9 266.0h0M176.1 261.1h0M178.6 262.2h0M182.7 262.2h0M182.0 263.3h0M174.9 265.8h0M176.2 269.9h0M179.2 261.0h0M176.1 261.1h0M177.9 265.3h0M176.2 266.7h0M177.4 268.2h0M179.8 262.6h0M181.3 260.3h0M175.4 260.3h0M182.5 265.4h0M181.4 269.9h0M173.9 269.0h0M173.2 267.0h0M180.9 263.8h0M181.9 267.7h0M178.0 262.8h0M183.8 265.4h0M188.2 261.9h0M188.3 260.8h0M186.0 266.7h0M184.5 265.2h0M184.3 268.8h0M185.1 269.3h0M192.2 269.6h0M185.8 266.8h0M183.7 269.7h0M189.9 260.4h0M184.4 261.1h0M186.5 269.4h0M190.9 263.3h0M191.1 260.1h0M196.9 260.8h0M202.2 266.6h0M203.0 266.4h0M199.2 261.3h0M197.8 269.0h0M198.6 266.4h0M197.6 263.6h0M193.1 262.2h0M253.9 121.6h0M253.3 132.8h0M258.0 131.9h0M257.2 123.6h0M257.2 126.5h0M257.3 124.0h0M254.5 129.0h0M254.1 124.4h0M256.6 133.4h0M257.9 131.1h0M254.8 128.0h0M255.9 130.1h0M257.6 129.6h0M257.8 128.1h0M255.2 120.5h0M254.6 128.2h0M253.1 127.5h0M253.6 124.5h0M257.4 135.6h0M253.6 130.0h0M255.4 120.9h0M254.5 129.1h0M255.1 129.7h0M253.3 130.4h0M256.1 123.2h0M255.8 135.9h0M257.5 130.5h0M255.6 132.7h0M255.3 132.0h0M254.9 129.4h0M256.7 129.9h0M256.0 126.5h0M254.8 131.1h0M255.2 127.5h0M241.0 162.9h0M242.0 168.8h0M240.3 166.5h0M241.6 166.4h0M242.2 164.0h0M239.5 163.6h0M241.6 166.3h0M243.2 166.6h0M242.1 163.5h0M235.7 177.0h0M233.5 175.2h0M232.7 170.1h0M231.1 171.0h0M231.1 173.8h0M232.7 171.0h0M233.0 177.8h0M235.0 170.0h0M235.1 169.9h0M239.1 168.2h0M239.9 167.8h0M204.4 115.2h0M217.7 116.3h0M246.7 116.3h0M246.9 116.8h0M239.6 118.6h0M251.7 118.0h0M197.2 116.5h0M185.3 115.7h0M191.4 116.7h0M241.2 115.2h0M210.7 117.6h0M178.0 118.5h0M182.7 118.8h0M179.1 119.4h0M192.7 115.7h0M177.3 116.2h0M175.5 116.7h0M255.2 117.0h0M200.4 118.8h0M170.0 115.6h0M245.6 116.8h0M179.6 116.1h0M233.6 119.9h0M200.9 118.6h0M206.9 116.2h0M192.9 116.8h0M186.8 119.0h0M171.6 117.1h0M232.8 115.4h0M254.5 118.2h0M225.0 116.1h0M182.3 119.2h0M255.6 115.3h0M240.6 116.2h0M170.3 118.1h0M172.0 119.2h0M243.2 116.6h0M176.8 117.7h0M234.2 115.4h0M229.9 115.8h0M198.9 116.0h0M170.7 117.8h0M191.4 119.6h0M248.9 118.7h0M211.6 118.3h0M194.6 117.5h0M215.0 117.2h0M205.2 119.3h0M257.0 118.7h0M244.6 116.7h0M170.1 116.3h0M210.5 118.9h0M232.7 119.6h0M237.0 116.6h0M168.2 117.5h0M194.3 119.4h0M249.0 117.8h0M236.5 118.7h0M212.4 117.3h0M253.5 119.0h0M217.3 119.9h0M177.1 118.9h0M215.3 116.7h0M175.1 118.0h0M245.6 116.0h0M248.4 119.9h0M181.4 117.9h0M209.1 116.8h0M174.4 116.5h0M252.5 119.2h0M253.4 117.6h0M210.4 115.5h0M203.5 118.0h0M257.4 115.5h0M225.4 115.4h0M255.3 116.2h0M228.9 118.2h0M182.5 117.4h0M203.2 116.1h0M200.6 115.5h0M230.2 119.9h0M214.5 117.1h0M211.9 115.9h0M233.2 118.5h0M172.9 117.0h0M174.7 118.6h0M164.4 119.4h0M169.2 119.2h0M181.2 117.7h0M230.6 119.7h0M246.1 115.9h0M231.0 117.3h0M178.9 117.4h0M252.1 115.3h0M229.4 117.8h0M246.8 117.5h0M186.7 119.3h0M173.3 118.5h0M190.9 115.5h0M178.9 119.3h0M177.9 119.6h0M177.0 119.7h0M168.0 118.4h0M213.7 118.1h0M250.9 116.3h0M257.4 117.9h0M239.9 116.4h0M257.7 118.7h0M207.8 116.2h0M246.5 117.9h0M257.0 119.4h0M234.1 118.7h0M178.9 119.2h0M230.9 115.7h0M169.6 115.7h0M183.8 118.9h0M235.9 118.5h0M198.0 119.7h0M177.4 116.3h0M204.9 116.5h0M232.9 119.2h0M233.6 116.8h0M218.1 116.7h0M215.1 117.7h0M177.5 119.3h0M240.2 118.9h0M171.7 116.3h0M234.2 119.1h0M221.7 119.7h0M203.5 116.3h0M208.1 116.6h0M199.2 119.0h0M193.7 118.6h0M219.3 115.3h0M211.5 119.4h0M224.5 119.3h0M223.7 120.0h0M166.7 117.2h0M181.8 118.8h0M190.9 118.4h0M225.3 115.3h0M221.4 116.8h0M187.0 118.3h0M223.0 116.2h0M230.5 115.6h0M168.2 119.5h0M251.2 119.7h0M257.5 118.8h0M217.0 117.7h0M213.8 119.7h0M254.8 117.3h0M182.2 117.8h0M203.2 119.1h0M250.6 118.2h0M170.8 117.8h0M175.2 117.8h0M240.8 118.4h0M207.4 116.0h0M251.5 119.4h0M209.4 115.5h0M227.3 117.1h0M200.7 117.0h0M189.1 115.9h0M224.8 117.7h0M203.9 118.8h0M210.8 116.0h0M188.5 117.9h0M226.3 118.2h0M233.9 116.9h0M235.8 118.0h0M187.2 115.8h0M222.5 119.3h0M253.3 119.1h0M241.2 118.0h0M186.3 116.6h0M244.9 116.5h0M209.0 117.8h0M164.7 115.7h0M182.0 119.0h0M158.7 115.9h0M146.2 119.9h0M146.3 119.1h0M154.7 119.4h0M157.7 115.9h0M158.4 118.7h0M143.8 119.7h0M148.8 117.6h0M153.5 118.0h0M154.4 115.8h0M160.1 117.9h0M145.0 117.8h0M146.8 117.4h0M157.4 118.9h0M146.2 116.8h0M162.4 118.3h0M146.7 118.2h0M148.0 115.8h0M140.9 116.9h0M137.8 118.9h0M99.1 119.3h0M107.6 122.7h0M116.0 136.2h0M115.7 138.5h0M103.5 142.2h0M105.2 142.2h0M114.9 142.3h0M121.0 147.3h0M127.7 117.6h0M128.5 119.0h0M131.1 120.3h0M137.2 116.2h0M136.8 119.0h0M137.8 126.6h0M127.1 132.1h0M111.2 156.5h0M120.3 155.1h0M120.3 158.4h0M104.1 161.1h0M119.4 164.2h0M121.4 163.8h0M103.4 170.5h0M120.7 171.4h0M94.4 174.6h0M112.2 174.6h0M119.4 176.4h0M122.1 177.7h0M97.1 179.5h0M103.5 178.6h0M106.5 179.5h0M103.5 181.8h0M118.4 180.4h0M113.3 183.5h0M114.9 184.5h0M117.1 185.8h0M122.5 186.2h0M91.9 188.9h0M109.0 194.3h0M93.3 196.2h0M91.9 198.4h0M99.8 198.9h0M112.6 198.0h0M116.6 195.3h0M118.7 193.9h0M121.4 193.2h0M116.0 197.3h0M118.7 196.6h0M58.5 204.3h0M59.9 209.5h0M79.5 204.3h0M79.8 208.8h0M75.4 212.4h0M87.6 202.4h0M88.3 207.0h0M86.9 208.8h0M93.3 205.1h0M99.5 201.1h0M100.4 209.7h0M77.9 221.4h0M86.2 220.9h0M91.0 217.3h0M79.5 225.9h0M76.5 228.1h0M82.2 228.6h0M80.2 231.4h0M82.5 237.2h0M89.6 225.0h0M92.0 224.0h0M95.0 224.5h0M97.0 226.3h0M98.4 229.1h0M94.4 232.7h0M68.4 243.2h0M73.8 245.7h0M86.0 243.9h0M86.0 245.7h0M95.0 241.9h0M96.4 243.9h0M97.3 244.9h0M105.2 244.3h0M111.2 244.6h0M114.6 240.8h0M117.1 246.0h0M104.5 215.1h0M96.8 214.9h0M95.7 218.2h0M96.6 259.9h0M104.2 256.5h0M117.1 253.0h0M118.0 250.7h0M121.4 255.1h0M109.2 279.5h0M116.6 278.6h0M118.7 278.4h0M120.3 274.6h0M122.5 279.1h0M125.0 262.8h0M126.8 267.6h0M131.4 271.0h0M123.7 278.6h0M129.5 278.4h0M131.1 278.1h0M134.5 278.6h0M136.5 279.1h0M141.2 278.6h0M143.0 277.7h0M150.0 270.3h0M155.4 270.0h0M157.5 270.3h0M166.9 273.0h0M190.6 268.9h0M258.4 143.0h0M256.4 146.6h0M254.4 146.0h0M251.0 143.9h0M249.6 146.6h0M248.3 152.0h0M253.3 151.1h0M250.3 154.7h0M248.3 158.8h0M245.3 162.8h0M259.1 166.6h0M248.3 167.6h0M243.3 170.9h0M238.4 176.4h0M241.5 178.8h0M246.2 181.8h0M241.9 183.1h0M239.5 184.1h0M236.1 184.5h0M232.5 185.8h0M219.2 188.9h0M215.6 190.3h0M221.9 192.6h0M222.6 195.3h0M226.6 195.3h0M230.7 191.6h0M230.7 193.9h0M236.5 194.3h0M209.1 193.5h0M211.1 197.3h0M207.7 188.5h0M205.7 201.4h0M208.1 201.1h0M206.4 206.1h0M214.1 203.4h0M217.2 204.3h0M220.3 203.0h0M228.4 202.7h0M209.1 213.2h0M205.0 217.6h0M208.8 221.4h0M205.4 233.1h0M203.7 237.8h0M207.7 238.5h0M210.8 238.1h0M207.1 240.3h0M224.9 238.9h0M204.4 244.6h0M205.0 246.6h0M207.3 248.0h0M205.7 251.6h0M208.1 252.7h0M208.7 254.7h0M212.5 252.0h0M203.4 256.1h0M226.6 258.5h0M218.9 189.5h0M231.1 190.8h0M196.0 208.6h0M200.7 213.8h0M191.2 223.5h0"/>
<path stroke="#0000ff" d="M145.1 113.9h0M147.3 113.9h0M149.9 112.3h0M155.3 113.1h0M157.5 112.9h0M158.8 112.5h0M168.1 111.4h0M169.6 112.9h0M173.9 113.2h0M176.1 113.9h0M182.0 112.3h0M188.5 112.9h0M190.0 112.9h0M193.0 113.1h0M196.0 112.7h0M201.9 113.8h0M208.0 112.5h0M211.0 112.3h0M214.0 112.8h0M216.5 111.9h0M219.0 108.3h0M220.0 111.8h0M222.0 111.0h0M224.0 112.0h0M226.0 110.8h0M228.0 111.5h0M230.0 110.6h0M232.0 112.3h0M234.0 110.8h0M236.0 112.5h0M238.0 110.5h0M235.0 110.7h0M228.5 110.9h0M207.8 110.5h0M206.6 112.3h0M233.2 110.5h0M210.5 110.6h0M218.2 111.3h0M211.8 112.5h0M209.1 112.1h0M210.3 112.1h0M209.9 111.0h0M235.7 111.2h0M219.5 112.2h0M236.0 111.9h0M209.5 112.2h0M226.5 112.0h0M217.5 112.5h0M207.9 111.9h0M222.3 112.8h0M229.4 111.1h0M217.5 112.0h0M217.4 110.7h0M235.8 111.6h0M210.2 110.9h0M206.5 112.8h0M237.5 110.7h0M257.6 111.7h0M248.8 109.4h0M250.8 111.9h0M239.2 109.1h0M244.3 110.9h0M256.2 110.8h0M240.7 111.5h0M237.8 108.5h0M234.2 110.8h0M248.5 110.2h0M247.8 108.9h0M239.3 110.8h0M244.1 110.4h0M256.9 110.2h0M252.6 108.3h0M246.3 108.3h0M239.0 108.9h0M243.6 108.8h0M257.4 109.4h0M241.6 108.3h0M243.2 111.8h0M247.7 112.3h0M249.4 111.1h0M244.7 112.0h0M245.2 108.7h0M239.6 111.8h0M235.4 108.9h0M249.7 111.3h0M245.6 111.1h0M244.5 110.8h0M235.0 110.0h0M258.3 110.8h0M242.5 111.0h0M258.4 110.2h0M244.4 111.9h0M255.3 109.1h0M250.7 109.4h0M242.8 111.9h0M243.1 112.4h0M246.2 112.2h0M237.2 109.9h0M234.8 112.1h0M256.2 110.3h0M245.6 112.7h0M243.7 109.5h0M237.4 112.4h0M254.1 110.5h0M252.2 112.0h0M250.7 108.5h0M250.2 112.2h0M245.9 110.1h0M250.1 108.9h0M239.6 111.3h0M258.8 108.5h0M250.6 110.4h0M234.9 108.8h0M241.6 111.3h0M237.3 109.8h0M249.5 111.6h0"/>
<rect x="260.3" y="107.8" width="11" height="6.2" fill="#a020f0" stroke="none"/>
<path stroke="#a020f0" d="M270.3 112.3h0M262.8 111.1h0M266.6 111.0h0M266.6 110.3h0M263.2 111.5h0M269.1 111.6h0M267.1 112.8h0M263.4 111.1h0M268.7 111.5h0M261.0 110.8h0M268.6 109.5h0M264.7 112.9h0M265.2 111.0h0M266.6 112.3h0M265.2 112.6h0M267.6 110.4h0M266.7 109.9h0M261.5 110.7h0M261.4 109.9h0M268.8 112.9h0M262.8 109.3h0M264.3 110.6h0M262.3 112.1h0M262.5 111.0h0M263.5 111.4h0M262.1 110.8h0M268.9 108.7h0M262.8 108.9h0M268.8 111.6h0M263.3 112.6h0M262.6 110.7h0M267.8 111.2h0M261.6 108.8h0M262.7 112.8h0M269.4 109.9h0M261.4 111.4h0M262.8 112.5h0M269.5 112.0h0M268.2 112.0h0M268.7 110.3h0"/>
<rect x="259.6" y="115" width="11.4" height="20" fill="#ff0000" stroke="none"/>
<path stroke="#ff0000" d="M267.3 116.2h0M267.0 124.1h0M270.1 130.4h0M264.4 128.9h0M265.9 127.3h0M259.7 120.1h0M262.4 128.9h0M269.4 127.5h0M267.7 127.6h0M261.2 120.7h0M265.8 129.8h0M264.1 128.7h0M263.2 121.8h0M261.4 123.6h0M265.8 118.0h0M269.6 116.2h0M267.4 122.3h0M269.6 121.2h0M259.9 128.6h0M263.6 131.0h0M266.7 124.1h0M266.7 128.5h0M263.1 119.6h0M266.6 126.4h0M260.1 119.0h0M264.2 117.6h0M265.2 123.2h0M262.8 129.7h0M267.5 117.2h0M266.0 134.2h0M266.1 134.0h0M262.1 120.0h0M263.1 120.3h0M261.3 120.7h0M265.0 130.9h0M267.9 116.7h0M267.8 127.7h0M262.4 116.1h0M268.8 118.5h0M262.3 121.6h0M268.1 133.3h0M269.4 131.5h0M268.6 124.6h0M260.2 120.3h0M261.1 118.1h0M261.0 121.8h0M260.1 121.4h0M268.8 120.4h0M265.0 131.6h0M259.8 129.3h0M265.4 116.6h0M269.1 130.6h0M260.7 133.6h0M265.8 127.6h0M261.9 116.6h0M267.1 129.1h0M261.5 116.6h0M265.7 121.6h0M263.3 131.9h0M265.7 118.2h0M267.1 129.2h0M265.7 133.5h0M264.7 127.9h0M260.2 121.5h0M262.8 123.9h0M265.1 118.1h0M267.0 117.0h0M262.3 126.7h0M259.9 122.0h0M268.3 129.4h0M263.6 119.1h0M267.6 131.9h0M260.5 123.7h0M265.5 128.7h0M261.8 131.0h0M266.1 130.6h0M269.7 128.5h0M266.8 121.4h0M262.5 122.8h0M268.3 126.9h0M262.6 132.5h0M265.1 133.9h0M266.6 129.4h0M263.3 134.1h0M264.7 128.3h0M263.9 125.6h0M261.5 122.7h0M264.0 129.6h0M261.3 119.6h0M266.5 124.7h0M269.0 116.4h0M264.3 131.2h0M267.7 122.5h0M265.1 123.3h0M259.7 117.5h0M262.0 132.0h0M261.7 121.2h0M265.6 128.8h0M266.5 121.7h0M263.3 116.2h0M268.1 122.9h0M262.7 119.8h0M264.9 118.7h0M263.1 117.9h0M261.6 125.7h0M263.1 118.0h0M268.9 117.1h0M264.0 121.4h0M260.2 121.4h0M264.3 128.6h0M260.0 138.0h0M262.0 139.0h0M264.0 139.5h0M261.5 137.5h0M259.8 136.5h0"/>
</g>
</svg>
<rect x="43.4" y="99.5" width="237.80" height="201.80" fill="none" stroke="#555555" stroke-width="1.05"/>
<line x1="39.80" y1="108.40" x2="43.40" y2="108.40" stroke="#555555" stroke-width="1.0" />
<text x="35.80" y="111.10" font-size="8.9" text-anchor="end" fill="#3d3d3d" textLength="17.1" lengthAdjust="spacingAndGlyphs" >1.00</text>
<line x1="39.80" y1="160.90" x2="43.40" y2="160.90" stroke="#555555" stroke-width="1.0" />
<text x="35.80" y="163.60" font-size="8.9" text-anchor="end" fill="#3d3d3d" textLength="17.1" lengthAdjust="spacingAndGlyphs" >0.99</text>
<line x1="39.80" y1="213.40" x2="43.40" y2="213.40" stroke="#555555" stroke-width="1.0" />
<text x="35.80" y="216.10" font-size="8.9" text-anchor="end" fill="#3d3d3d" textLength="17.1" lengthAdjust="spacingAndGlyphs" >0.98</text>
<line x1="39.80" y1="265.90" x2="43.40" y2="265.90" stroke="#555555" stroke-width="1.0" />
<text x="35.80" y="268.60" font-size="8.9" text-anchor="end" fill="#3d3d3d" textLength="17.1" lengthAdjust="spacingAndGlyphs" >0.97</text>
<line x1="54.50" y1="301.30" x2="54.50" y2="304.90" stroke="#555555" stroke-width="1.0" />
<text x="54.50" y="315.90" font-size="8.9" text-anchor="middle" fill="#3d3d3d" textLength="13.1" lengthAdjust="spacingAndGlyphs" >0.5</text>
<line x1="97.70" y1="301.30" x2="97.70" y2="304.90" stroke="#555555" stroke-width="1.0" />
<text x="97.70" y="315.90" font-size="8.9" text-anchor="middle" fill="#3d3d3d" textLength="13.1" lengthAdjust="spacingAndGlyphs" >0.6</text>
<line x1="140.90" y1="301.30" x2="140.90" y2="304.90" stroke="#555555" stroke-width="1.0" />
<text x="140.90" y="315.90" font-size="8.9" text-anchor="middle" fill="#3d3d3d" textLength="13.1" lengthAdjust="spacingAndGlyphs" >0.7</text>
<line x1="184.10" y1="301.30" x2="184.10" y2="304.90" stroke="#555555" stroke-width="1.0" />
<text x="184.10" y="315.90" font-size="8.9" text-anchor="middle" fill="#3d3d3d" textLength="13.1" lengthAdjust="spacingAndGlyphs" >0.8</text>
<line x1="227.30" y1="301.30" x2="227.30" y2="304.90" stroke="#555555" stroke-width="1.0" />
<text x="227.30" y="315.90" font-size="8.9" text-anchor="middle" fill="#3d3d3d" textLength="13.1" lengthAdjust="spacingAndGlyphs" >0.9</text>
<line x1="270.50" y1="301.30" x2="270.50" y2="304.90" stroke="#555555" stroke-width="1.0" />
<text x="270.50" y="315.90" font-size="8.9" text-anchor="middle" fill="#3d3d3d" textLength="13.1" lengthAdjust="spacingAndGlyphs" >1.0</text>
<text x="149.90" y="330.60" font-size="10.5" text-anchor="start" fill="#000" textLength="25.0" lengthAdjust="spacingAndGlyphs" >APSS</text>
<text transform="translate(11.1,200.2) rotate(-90)" font-size="10.2" text-anchor="middle" fill="#000" textLength="35.6" lengthAdjust="spacingAndGlyphs">popANI</text>
<line x1="291.20" y1="99.50" x2="291.20" y2="301.30" stroke="#ebebeb" stroke-width="0.9" />
<line x1="300.32" y1="99.50" x2="300.32" y2="301.30" stroke="#ebebeb" stroke-width="0.6" />
<line x1="309.44" y1="99.50" x2="309.44" y2="301.30" stroke="#ebebeb" stroke-width="0.9" />
<line x1="318.56" y1="99.50" x2="318.56" y2="301.30" stroke="#ebebeb" stroke-width="0.6" />
<line x1="327.68" y1="99.50" x2="327.68" y2="301.30" stroke="#ebebeb" stroke-width="0.9" />
<line x1="336.80" y1="99.50" x2="336.80" y2="301.30" stroke="#ebebeb" stroke-width="0.6" />
<line x1="345.92" y1="99.50" x2="345.92" y2="301.30" stroke="#ebebeb" stroke-width="0.9" />
<line x1="288.50" y1="108.50" x2="346.40" y2="108.50" stroke="#ebebeb" stroke-width="0.9" />
<line x1="288.50" y1="136.60" x2="346.40" y2="136.60" stroke="#ebebeb" stroke-width="0.6" />
<line x1="288.50" y1="164.70" x2="346.40" y2="164.70" stroke="#ebebeb" stroke-width="0.9" />
<line x1="288.50" y1="192.80" x2="346.40" y2="192.80" stroke="#ebebeb" stroke-width="0.6" />
<line x1="288.50" y1="220.90" x2="346.40" y2="220.90" stroke="#ebebeb" stroke-width="0.9" />
<line x1="288.50" y1="249.00" x2="346.40" y2="249.00" stroke="#ebebeb" stroke-width="0.6" />
<line x1="288.50" y1="277.10" x2="346.40" y2="277.10" stroke="#ebebeb" stroke-width="0.9" />
<path d="M291.2 108.4L301.9 108.4C303.17 108.85 306.57 110.27 309.50 111.10C312.43 111.93 316.15 112.57 319.50 113.40C322.85 114.23 326.25 115.18 329.60 116.10C332.95 117.02 337.23 117.95 339.60 118.90C341.97 119.85 343.80 120.82 343.80 121.80C343.80 122.78 341.70 123.73 339.60 124.80C337.50 125.87 333.98 126.95 331.20 128.20C328.42 129.45 325.40 130.92 322.90 132.30C320.40 133.68 318.43 135.10 316.20 136.50C313.97 137.90 311.32 139.43 309.50 140.70C307.68 141.97 306.28 142.83 305.30 144.10C304.32 145.37 303.95 145.97 303.60 148.30C303.25 150.63 303.50 155.12 303.20 158.10C302.90 161.08 302.23 163.15 301.80 166.20C301.37 169.25 301.13 173.18 300.60 176.40C300.07 179.62 299.42 182.80 298.60 185.50C297.78 188.20 296.38 190.58 295.70 192.60C295.02 194.62 294.60 195.23 294.50 197.60C294.40 199.97 295.00 202.23 295.10 206.80C295.20 211.37 295.20 219.60 295.10 225.00C295.00 230.40 294.40 235.48 294.50 239.20C294.60 242.92 295.60 243.58 295.70 247.30C295.80 251.02 295.43 257.10 295.10 261.50C294.77 265.90 294.13 270.15 293.70 273.70C293.27 277.25 292.87 279.77 292.50 282.80C292.13 285.83 291.67 290.38 291.50 291.90L291.2 291.9Z" fill="#0000ff" fill-opacity="0.3" stroke="none"/>
<line x1="288.50" y1="134.50" x2="320.30" y2="134.50" stroke="#0000ff" stroke-width="1.0" />
<path d="M301.90 108.40C303.17 108.85 306.57 110.27 309.50 111.10C312.43 111.93 316.15 112.57 319.50 113.40C322.85 114.23 326.25 115.18 329.60 116.10C332.95 117.02 337.23 117.95 339.60 118.90C341.97 119.85 343.80 120.82 343.80 121.80C343.80 122.78 341.70 123.73 339.60 124.80C337.50 125.87 333.98 126.95 331.20 128.20C328.42 129.45 325.40 130.92 322.90 132.30C320.40 133.68 318.43 135.10 316.20 136.50C313.97 137.90 311.32 139.43 309.50 140.70C307.68 141.97 306.28 142.83 305.30 144.10C304.32 145.37 303.95 145.97 303.60 148.30C303.25 150.63 303.50 155.12 303.20 158.10C302.90 161.08 302.23 163.15 301.80 166.20C301.37 169.25 301.13 173.18 300.60 176.40C300.07 179.62 299.42 182.80 298.60 185.50C297.78 188.20 296.38 190.58 295.70 192.60C295.02 194.62 294.60 195.23 294.50 197.60C294.40 199.97 295.00 202.23 295.10 206.80C295.20 211.37 295.20 219.60 295.10 225.00C295.00 230.40 294.40 235.48 294.50 239.20C294.60 242.92 295.60 243.58 295.70 247.30C295.80 251.02 295.43 257.10 295.10 261.50C294.77 265.90 294.13 270.15 293.70 273.70C293.27 277.25 292.87 279.77 292.50 282.80C292.13 285.83 291.67 290.38 291.50 291.90" fill="none" stroke="#222" stroke-width="0.95"/>
<rect x="288.5" y="99.5" width="57.90" height="201.80" fill="none" stroke="#555555" stroke-width="1.05"/>
<line x1="291.20" y1="301.30" x2="291.20" y2="304.90" stroke="#555555" stroke-width="1.0" />
<text x="291.20" y="316.20" font-size="8.9" text-anchor="middle" fill="#3d3d3d" >0</text>
<line x1="309.50" y1="301.30" x2="309.50" y2="304.90" stroke="#555555" stroke-width="1.0" />
<text x="309.50" y="316.20" font-size="8.9" text-anchor="middle" fill="#3d3d3d" >50</text>
<line x1="327.70" y1="301.30" x2="327.70" y2="304.90" stroke="#555555" stroke-width="1.0" />
<text x="327.70" y="316.20" font-size="8.9" text-anchor="middle" fill="#3d3d3d" >100</text>
<line x1="346.00" y1="301.30" x2="346.00" y2="304.90" stroke="#555555" stroke-width="1.0" />
<text x="346.00" y="316.20" font-size="8.9" text-anchor="middle" fill="#3d3d3d" >150</text>
<text x="317.50" y="331.10" font-size="10.4" text-anchor="middle" fill="#000" textLength="34.5" lengthAdjust="spacingAndGlyphs" >Density</text>
<text x="-0.60" y="13.00" font-size="16" text-anchor="start" fill="#000" font-weight="bold" stroke="#000" stroke-width="0.45">a</text>
<text x="370.90" y="13.00" font-size="16" text-anchor="start" fill="#000" font-weight="bold" stroke="#000" stroke-width="0.45">b</text>
<line x1="422.20" y1="9.50" x2="422.20" y2="301.40" stroke="#ebebeb" stroke-width="0.9" />
<line x1="451.00" y1="9.50" x2="451.00" y2="301.40" stroke="#ebebeb" stroke-width="0.6" />
<line x1="479.80" y1="9.50" x2="479.80" y2="301.40" stroke="#ebebeb" stroke-width="0.9" />
<line x1="508.60" y1="9.50" x2="508.60" y2="301.40" stroke="#ebebeb" stroke-width="0.6" />
<line x1="537.40" y1="9.50" x2="537.40" y2="301.40" stroke="#ebebeb" stroke-width="0.9" />
<line x1="566.20" y1="9.50" x2="566.20" y2="301.40" stroke="#ebebeb" stroke-width="0.6" />
<line x1="595.00" y1="9.50" x2="595.00" y2="301.40" stroke="#ebebeb" stroke-width="0.9" />
<line x1="623.80" y1="9.50" x2="623.80" y2="301.40" stroke="#ebebeb" stroke-width="0.6" />
<line x1="652.60" y1="9.50" x2="652.60" y2="301.40" stroke="#ebebeb" stroke-width="0.9" />
<line x1="409.70" y1="288.50" x2="682.30" y2="288.50" stroke="#ebebeb" stroke-width="0.9" />
<line x1="409.70" y1="258.20" x2="682.30" y2="258.20" stroke="#ebebeb" stroke-width="0.6" />
<line x1="409.70" y1="227.90" x2="682.30" y2="227.90" stroke="#ebebeb" stroke-width="0.9" />
<line x1="409.70" y1="197.60" x2="682.30" y2="197.60" stroke="#ebebeb" stroke-width="0.6" />
<line x1="409.70" y1="167.30" x2="682.30" y2="167.30" stroke="#ebebeb" stroke-width="0.9" />
<line x1="409.70" y1="137.00" x2="682.30" y2="137.00" stroke="#ebebeb" stroke-width="0.6" />
<line x1="409.70" y1="106.70" x2="682.30" y2="106.70" stroke="#ebebeb" stroke-width="0.9" />
<line x1="409.70" y1="76.40" x2="682.30" y2="76.40" stroke="#ebebeb" stroke-width="0.6" />
<line x1="409.70" y1="46.10" x2="682.30" y2="46.10" stroke="#ebebeb" stroke-width="0.9" />
<line x1="409.70" y1="16.40" x2="682.30" y2="16.40" stroke="#ebebeb" stroke-width="0.6" />
<circle cx="447.2" cy="46.2" r="3.05" fill="#bdbdbd" stroke="#333" stroke-width="0.75"/>
<circle cx="639.2" cy="140.8" r="3.05" fill="#bdbdbd" stroke="#333" stroke-width="0.75"/>
<circle cx="451.1" cy="162.3" r="3.05" fill="#bdbdbd" stroke="#333" stroke-width="0.75"/>
<circle cx="471" cy="191.1" r="3.05" fill="#bdbdbd" stroke="#333" stroke-width="0.75"/>
<circle cx="602.4" cy="192.8" r="3.05" fill="#bdbdbd" stroke="#333" stroke-width="0.75"/>
<circle cx="508.3" cy="215.6" r="3.05" fill="#bdbdbd" stroke="#333" stroke-width="0.75"/>
<circle cx="495" cy="225.6" r="3.05" fill="#bdbdbd" stroke="#333" stroke-width="0.75"/>
<circle cx="501.6" cy="235.3" r="3.05" fill="#bdbdbd" stroke="#333" stroke-width="0.75"/>
<circle cx="515.0" cy="253.6" r="3.05" fill="#bdbdbd" stroke="#333" stroke-width="0.75"/>
<circle cx="561.2" cy="253.4" r="3.05" fill="#bdbdbd" stroke="#333" stroke-width="0.75"/>
<circle cx="529.8" cy="263.6" r="3.05" fill="#bdbdbd" stroke="#333" stroke-width="0.75"/>
<circle cx="535.9" cy="266.4" r="3.05" fill="#bdbdbd" stroke="#333" stroke-width="0.75"/>
<circle cx="524.7" cy="269.8" r="3.05" fill="#bdbdbd" stroke="#333" stroke-width="0.75"/>
<circle cx="526.2" cy="271.9" r="3.05" fill="#bdbdbd" stroke="#333" stroke-width="0.75"/>
<circle cx="533.9" cy="273.7" r="3.05" fill="#bdbdbd" stroke="#333" stroke-width="0.75"/>
<circle cx="540.5" cy="271.9" r="3.05" fill="#bdbdbd" stroke="#333" stroke-width="0.75"/>
<circle cx="551.3" cy="264.4" r="3.05" fill="#bdbdbd" stroke="#333" stroke-width="0.75"/>
<circle cx="552.7" cy="265.6" r="3.05" fill="#bdbdbd" stroke="#333" stroke-width="0.75"/>
<circle cx="550.3" cy="267.6" r="3.05" fill="#bdbdbd" stroke="#333" stroke-width="0.75"/>
<circle cx="548.0" cy="271.7" r="3.05" fill="#bdbdbd" stroke="#333" stroke-width="0.75"/>
<circle cx="544.8" cy="277.3" r="3.05" fill="#bdbdbd" stroke="#333" stroke-width="0.75"/>
<circle cx="532" cy="279.8" r="3.05" fill="#bdbdbd" stroke="#333" stroke-width="0.75"/>
<circle cx="535.7" cy="282.2" r="3.05" fill="#bdbdbd" stroke="#333" stroke-width="0.75"/>
<circle cx="542.4" cy="279.8" r="3.05" fill="#bdbdbd" stroke="#333" stroke-width="0.75"/>
<circle cx="540.5" cy="282.2" r="3.05" fill="#bdbdbd" stroke="#333" stroke-width="0.75"/>
<circle cx="538.7" cy="284.7" r="3.05" fill="#bdbdbd" stroke="#333" stroke-width="0.75"/>
<circle cx="536.3" cy="285.9" r="3.05" fill="#bdbdbd" stroke="#333" stroke-width="0.75"/>
<circle cx="537.0" cy="287.6" r="3.05" fill="#bdbdbd" stroke="#333" stroke-width="0.75"/>
<circle cx="678.7" cy="12.7" r="3.05" fill="#bdbdbd" stroke="#333" stroke-width="0.75"/>
<line x1="537.40" y1="9.50" x2="537.40" y2="301.40" stroke="#000" stroke-width="1.25" />
<path d="M409.7 9.5H682.3V301.4H409.7" fill="none" stroke="#555555" stroke-width="1.05"/>
<line x1="409.70" y1="9.00" x2="409.70" y2="301.90" stroke="#7a7a7a" stroke-width="1.5" />
<circle cx="678.7" cy="12.7" r="3.05" fill="#bdbdbd" stroke="#333" stroke-width="0.75"/>
<line x1="406.20" y1="13.40" x2="409.70" y2="13.40" stroke="#555555" stroke-width="1.0" />
<text x="401.90" y="16.20" font-size="8.9" text-anchor="end" fill="#3d3d3d" >Inf</text>
<line x1="406.20" y1="46.10" x2="409.70" y2="46.10" stroke="#555555" stroke-width="1.0" />
<text x="401.90" y="48.90" font-size="8.9" text-anchor="end" fill="#3d3d3d" >20</text>
<line x1="406.20" y1="106.70" x2="409.70" y2="106.70" stroke="#555555" stroke-width="1.0" />
<text x="401.90" y="109.50" font-size="8.9" text-anchor="end" fill="#3d3d3d" >15</text>
<line x1="406.20" y1="167.30" x2="409.70" y2="167.30" stroke="#555555" stroke-width="1.0" />
<text x="401.90" y="170.10" font-size="8.9" text-anchor="end" fill="#3d3d3d" >10</text>
<line x1="406.20" y1="227.90" x2="409.70" y2="227.90" stroke="#555555" stroke-width="1.0" />
<text x="401.90" y="230.70" font-size="8.9" text-anchor="end" fill="#3d3d3d" >5</text>
<line x1="406.20" y1="288.50" x2="409.70" y2="288.50" stroke="#555555" stroke-width="1.0" />
<text x="401.90" y="291.30" font-size="8.9" text-anchor="end" fill="#3d3d3d" >0</text>
<line x1="422.20" y1="301.40" x2="422.20" y2="304.80" stroke="#555555" stroke-width="1.0" />
<text x="422.20" y="316.00" font-size="8.9" text-anchor="middle" fill="#3d3d3d" >−20</text>
<line x1="479.80" y1="301.40" x2="479.80" y2="304.80" stroke="#555555" stroke-width="1.0" />
<text x="479.80" y="316.00" font-size="8.9" text-anchor="middle" fill="#3d3d3d" >−10</text>
<line x1="537.40" y1="301.40" x2="537.40" y2="304.80" stroke="#555555" stroke-width="1.0" />
<text x="537.40" y="316.00" font-size="8.9" text-anchor="middle" fill="#3d3d3d" >0</text>
<line x1="595.00" y1="301.40" x2="595.00" y2="304.80" stroke="#555555" stroke-width="1.0" />
<text x="595.00" y="316.00" font-size="8.9" text-anchor="middle" fill="#3d3d3d" >10</text>
<line x1="652.60" y1="301.40" x2="652.60" y2="304.80" stroke="#555555" stroke-width="1.0" />
<text x="652.60" y="316.00" font-size="8.9" text-anchor="middle" fill="#3d3d3d" >20</text>
<line x1="679.50" y1="301.40" x2="679.50" y2="304.80" stroke="#555555" stroke-width="1.0" />
<text x="679.50" y="316.00" font-size="8.9" text-anchor="middle" fill="#3d3d3d" >Inf</text>
<g stroke="#222" stroke-width="0.9" fill="none"><path d="M406.3 25.4L412.6 22.1M406.3 27.5L412.6 24.2"/><path d="M663 304.5L667.7 298.3M665.6 304.5L670.3 298.3"/></g>
<text transform="translate(379.7,154.9) rotate(-90)" font-size="10.3" text-anchor="middle" fill="#111" textLength="80.8" lengthAdjust="spacingAndGlyphs">−log(enrichment)</text>
<text x="494.2" y="330.7" font-size="10.9" fill="#111">log<tspan font-size="7.4" dy="2.7">2</tspan><tspan dy="-2.7">(enrichment ratio)</tspan></text>
<text x="604.80" y="23.30" font-size="8.1" text-anchor="start" fill="#2b2b2b" font-style="italic" textLength="76.8" lengthAdjust="spacingAndGlyphs" >Phocaeicola vulgatus</text>
<text x="413.50" y="58.10" font-size="8.1" text-anchor="start" fill="#2b2b2b" font-style="italic" textLength="88.3" lengthAdjust="spacingAndGlyphs" >Phocaeicola massiliensis</text>
<text x="605.30" y="151.20" font-size="8.1" text-anchor="start" fill="#2b2b2b" font-style="italic" textLength="69.0" lengthAdjust="spacingAndGlyphs" >Bacteroides fragilis</text>
<text x="412.40" y="174.30" font-size="8.1" text-anchor="start" fill="#2b2b2b" font-style="italic" textLength="103.5" lengthAdjust="spacingAndGlyphs" >Streptococcus thermophilus</text>
<text x="449.00" y="201.60" font-size="8.1" text-anchor="start" fill="#2b2b2b" font-style="italic" textLength="43.7" lengthAdjust="spacingAndGlyphs" >g_Prevotella</text>
<text x="573.80" y="203.00" font-size="8.1" text-anchor="start" fill="#2b2b2b" font-style="italic" textLength="69.3" lengthAdjust="spacingAndGlyphs" >Alistipes putredinis</text>
<text x="507.80" y="227.70" font-size="8.1" text-anchor="start" fill="#2b2b2b" font-style="italic" textLength="95.8" lengthAdjust="spacingAndGlyphs" >Streptococcus gallolyticus</text>
<text x="431.80" y="235.80" font-size="8.1" text-anchor="start" fill="#2b2b2b" font-style="italic" textLength="65.6" lengthAdjust="spacingAndGlyphs" >Escherichia coli_C</text>
<text x="506.20" y="244.80" font-size="8.1" text-anchor="start" fill="#2b2b2b" font-style="italic" textLength="62.8" lengthAdjust="spacingAndGlyphs" >Agathobacter sp.</text>
<g stroke-width="1.4"><line x1="414" y1="340.8" x2="515.2" y2="340.8" stroke="#0000ff"/><line x1="560.8" y1="340.8" x2="662.5" y2="340.8" stroke="#ff0000"/></g>
<path d="M410.9 340.8L417 338.1L416 340.8L417 343.5Z" fill="#0000ff"/>
<path d="M665.7 340.8L659.6 338.1L660.6 340.8L659.6 343.5Z" fill="#ff0000"/>
<text x="463.10" y="356.80" font-size="11" text-anchor="middle" fill="#2a2aff" textLength="101.1" lengthAdjust="spacingAndGlyphs" >Enriched in structural</text>
<text x="463.10" y="367.80" font-size="11" text-anchor="middle" fill="#2a2aff" textLength="53.0" lengthAdjust="spacingAndGlyphs" >differences</text>
<text x="613.10" y="356.80" font-size="11" text-anchor="middle" fill="#ff2a2a" textLength="52.5" lengthAdjust="spacingAndGlyphs" >Enriched in</text>
<text x="613.00" y="367.80" font-size="11" text-anchor="middle" fill="#ff2a2a" textLength="24.5" lengthAdjust="spacingAndGlyphs" >SNPs</text>
</svg>
</body></html>
